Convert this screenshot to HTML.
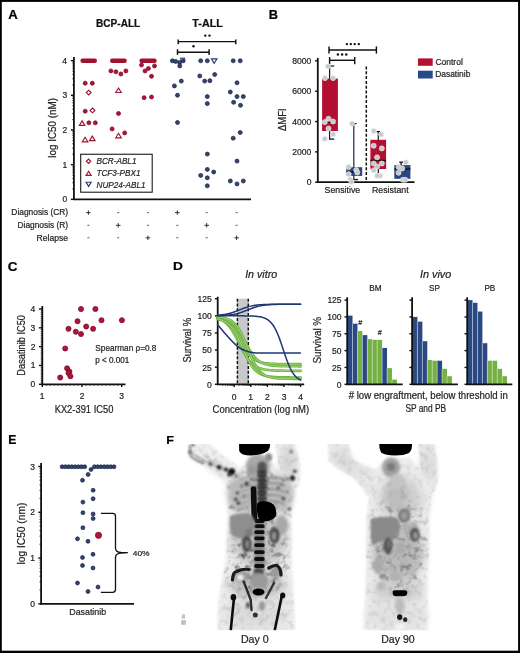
<!DOCTYPE html>
<html><head><meta charset="utf-8"><style>
html,body{margin:0;padding:0;background:#fff;}
#wrap{position:relative;width:520px;height:653px;overflow:hidden;background:#fff;}
svg{position:absolute;left:0;top:0;filter:blur(0.3px);font-family:"Liberation Sans",sans-serif;}
</style></head><body><div id="wrap">
<svg width="520" height="653" viewBox="0 0 520 653">
<text x="8.17" y="18.80" font-size="12.4" textLength="9.49" lengthAdjust="spacingAndGlyphs" font-weight="bold" font-style="normal" fill="#000" stroke="#000" stroke-width="0.22" >A</text>
<text x="268.67" y="18.70" font-size="12.0" textLength="9.23" lengthAdjust="spacingAndGlyphs" font-weight="bold" font-style="normal" fill="#000" stroke="#000" stroke-width="0.22" >B</text>
<text x="7.76" y="270.60" font-size="12.2" textLength="9.70" lengthAdjust="spacingAndGlyphs" font-weight="bold" font-style="normal" fill="#000" stroke="#000" stroke-width="0.22" >C</text>
<text x="172.91" y="270.20" font-size="11.6" textLength="9.86" lengthAdjust="spacingAndGlyphs" font-weight="bold" font-style="normal" fill="#000" stroke="#000" stroke-width="0.22" >D</text>
<text x="8.21" y="443.60" font-size="12.2" textLength="8.15" lengthAdjust="spacingAndGlyphs" font-weight="bold" font-style="normal" fill="#000" stroke="#000" stroke-width="0.22" >E</text>
<text x="166.18" y="444.20" font-size="11.8" textLength="7.67" lengthAdjust="spacingAndGlyphs" font-weight="bold" font-style="normal" fill="#000" stroke="#000" stroke-width="0.22" >F</text>
<line x1="73.90" y1="57.10" x2="73.90" y2="200.10" stroke="#111" stroke-width="1.8" />
<line x1="73.10" y1="199.30" x2="251.00" y2="199.30" stroke="#111" stroke-width="1.8" />
<line x1="70.90" y1="199.30" x2="73.90" y2="199.30" stroke="#111" stroke-width="1.4" />
<text x="62.38" y="202.32" font-size="8.5" fill="#231f20" stroke="#231f20" stroke-width="0.22">0</text>
<line x1="72.20" y1="188.86" x2="73.90" y2="188.86" stroke="#111" stroke-width="0.7" />
<line x1="72.20" y1="182.76" x2="73.90" y2="182.76" stroke="#111" stroke-width="0.7" />
<line x1="72.20" y1="178.43" x2="73.90" y2="178.43" stroke="#111" stroke-width="0.7" />
<line x1="72.20" y1="175.07" x2="73.90" y2="175.07" stroke="#111" stroke-width="0.7" />
<line x1="72.20" y1="172.32" x2="73.90" y2="172.32" stroke="#111" stroke-width="0.7" />
<line x1="72.20" y1="170.00" x2="73.90" y2="170.00" stroke="#111" stroke-width="0.7" />
<line x1="72.20" y1="167.99" x2="73.90" y2="167.99" stroke="#111" stroke-width="0.7" />
<line x1="72.20" y1="166.22" x2="73.90" y2="166.22" stroke="#111" stroke-width="0.7" />
<line x1="70.90" y1="164.63" x2="73.90" y2="164.63" stroke="#111" stroke-width="1.4" />
<text x="62.46" y="167.65" font-size="8.5" fill="#231f20" stroke="#231f20" stroke-width="0.22">1</text>
<line x1="72.20" y1="154.19" x2="73.90" y2="154.19" stroke="#111" stroke-width="0.7" />
<line x1="72.20" y1="148.09" x2="73.90" y2="148.09" stroke="#111" stroke-width="0.7" />
<line x1="72.20" y1="143.76" x2="73.90" y2="143.76" stroke="#111" stroke-width="0.7" />
<line x1="72.20" y1="140.40" x2="73.90" y2="140.40" stroke="#111" stroke-width="0.7" />
<line x1="72.20" y1="137.65" x2="73.90" y2="137.65" stroke="#111" stroke-width="0.7" />
<line x1="72.20" y1="135.33" x2="73.90" y2="135.33" stroke="#111" stroke-width="0.7" />
<line x1="72.20" y1="133.32" x2="73.90" y2="133.32" stroke="#111" stroke-width="0.7" />
<line x1="72.20" y1="131.55" x2="73.90" y2="131.55" stroke="#111" stroke-width="0.7" />
<line x1="70.90" y1="129.96" x2="73.90" y2="129.96" stroke="#111" stroke-width="1.4" />
<text x="62.51" y="132.98" font-size="8.5" fill="#231f20" stroke="#231f20" stroke-width="0.22">2</text>
<line x1="72.20" y1="119.52" x2="73.90" y2="119.52" stroke="#111" stroke-width="0.7" />
<line x1="72.20" y1="113.42" x2="73.90" y2="113.42" stroke="#111" stroke-width="0.7" />
<line x1="72.20" y1="109.09" x2="73.90" y2="109.09" stroke="#111" stroke-width="0.7" />
<line x1="72.20" y1="105.73" x2="73.90" y2="105.73" stroke="#111" stroke-width="0.7" />
<line x1="72.20" y1="102.98" x2="73.90" y2="102.98" stroke="#111" stroke-width="0.7" />
<line x1="72.20" y1="100.66" x2="73.90" y2="100.66" stroke="#111" stroke-width="0.7" />
<line x1="72.20" y1="98.65" x2="73.90" y2="98.65" stroke="#111" stroke-width="0.7" />
<line x1="72.20" y1="96.88" x2="73.90" y2="96.88" stroke="#111" stroke-width="0.7" />
<line x1="70.90" y1="95.29" x2="73.90" y2="95.29" stroke="#111" stroke-width="1.4" />
<text x="62.42" y="98.31" font-size="8.5" fill="#231f20" stroke="#231f20" stroke-width="0.22">3</text>
<line x1="72.20" y1="84.85" x2="73.90" y2="84.85" stroke="#111" stroke-width="0.7" />
<line x1="72.20" y1="78.75" x2="73.90" y2="78.75" stroke="#111" stroke-width="0.7" />
<line x1="72.20" y1="74.42" x2="73.90" y2="74.42" stroke="#111" stroke-width="0.7" />
<line x1="72.20" y1="71.06" x2="73.90" y2="71.06" stroke="#111" stroke-width="0.7" />
<line x1="72.20" y1="68.31" x2="73.90" y2="68.31" stroke="#111" stroke-width="0.7" />
<line x1="72.20" y1="65.99" x2="73.90" y2="65.99" stroke="#111" stroke-width="0.7" />
<line x1="72.20" y1="63.98" x2="73.90" y2="63.98" stroke="#111" stroke-width="0.7" />
<line x1="72.20" y1="62.21" x2="73.90" y2="62.21" stroke="#111" stroke-width="0.7" />
<line x1="70.90" y1="60.62" x2="73.90" y2="60.62" stroke="#111" stroke-width="1.4" />
<text x="62.34" y="63.64" font-size="8.5" fill="#231f20" stroke="#231f20" stroke-width="0.22">4</text>
<text transform="translate(56.32,157.64) rotate(-90)" x="0" y="0" font-size="10.2" textLength="59.56" lengthAdjust="spacingAndGlyphs" fill="#231f20" stroke="#231f20" stroke-width="0.22">log IC50 (nM)</text>
<text x="96.04" y="26.50" font-size="10" textLength="44.24" lengthAdjust="spacingAndGlyphs" font-weight="bold" font-style="normal" fill="#111" stroke="#111" stroke-width="0.22" >BCP-ALL</text>
<text x="192.39" y="26.50" font-size="10" textLength="30.46" lengthAdjust="spacingAndGlyphs" font-weight="bold" font-style="normal" fill="#111" stroke="#111" stroke-width="0.22" >T-ALL</text>
<line x1="178.20" y1="41.60" x2="235.80" y2="41.60" stroke="#111" stroke-width="1.45" />
<line x1="178.20" y1="39.40" x2="178.20" y2="44.20" stroke="#111" stroke-width="1.45" />
<line x1="235.80" y1="39.40" x2="235.80" y2="44.20" stroke="#111" stroke-width="1.45" />
<circle cx="205.30" cy="35.60" r="1.2" fill="#111" />
<circle cx="209.50" cy="35.60" r="1.2" fill="#111" />
<line x1="177.50" y1="52.20" x2="209.10" y2="52.20" stroke="#111" stroke-width="1.45" />
<line x1="177.50" y1="49.20" x2="177.50" y2="54.90" stroke="#111" stroke-width="1.45" />
<line x1="209.10" y1="49.20" x2="209.10" y2="54.90" stroke="#111" stroke-width="1.45" />
<circle cx="193.50" cy="46.20" r="1.2" fill="#111" />
<line x1="82.60" y1="60.70" x2="94.80" y2="60.70" stroke="#a1102f" stroke-width="4.4" stroke-linecap="round"/>
<circle cx="85.20" cy="83.20" r="2.00" fill="#b3123a" stroke="#7a0a26" stroke-width="0.75"/>
<circle cx="92.30" cy="83.20" r="2.00" fill="#b3123a" stroke="#7a0a26" stroke-width="0.75"/>
<circle cx="85.20" cy="111.20" r="2.00" fill="#b3123a" stroke="#7a0a26" stroke-width="0.75"/>
<circle cx="88.90" cy="122.80" r="2.00" fill="#b3123a" stroke="#7a0a26" stroke-width="0.75"/>
<circle cx="95.30" cy="122.80" r="2.00" fill="#b3123a" stroke="#7a0a26" stroke-width="0.75"/>
<path d="M88.70 90.20L91.10 92.60L88.70 95.00L86.30 92.60Z" fill="none" stroke="#a1102f" stroke-width="1.15"/>
<path d="M92.50 108.00L94.90 110.40L92.50 112.80L90.10 110.40Z" fill="none" stroke="#a1102f" stroke-width="1.15"/>
<path d="M82.10 120.90L84.85 125.40L79.35 125.40Z" fill="none" stroke="#a1102f" stroke-width="1.15" stroke-linejoin="miter"/>
<path d="M85.10 137.30L87.85 141.80L82.35 141.80Z" fill="none" stroke="#a1102f" stroke-width="1.15" stroke-linejoin="miter"/>
<path d="M92.30 136.10L95.05 140.60L89.55 140.60Z" fill="none" stroke="#a1102f" stroke-width="1.15" stroke-linejoin="miter"/>
<line x1="112.20" y1="60.70" x2="124.60" y2="60.70" stroke="#a1102f" stroke-width="4.4" stroke-linecap="round"/>
<circle cx="110.90" cy="70.90" r="2.00" fill="#b3123a" stroke="#7a0a26" stroke-width="0.75"/>
<circle cx="115.90" cy="71.80" r="2.00" fill="#b3123a" stroke="#7a0a26" stroke-width="0.75"/>
<circle cx="120.90" cy="74.00" r="2.00" fill="#b3123a" stroke="#7a0a26" stroke-width="0.75"/>
<circle cx="125.90" cy="70.90" r="2.00" fill="#b3123a" stroke="#7a0a26" stroke-width="0.75"/>
<circle cx="118.50" cy="113.50" r="2.00" fill="#b3123a" stroke="#7a0a26" stroke-width="0.75"/>
<circle cx="112.10" cy="128.90" r="2.00" fill="#b3123a" stroke="#7a0a26" stroke-width="0.75"/>
<circle cx="124.70" cy="132.90" r="2.00" fill="#b3123a" stroke="#7a0a26" stroke-width="0.75"/>
<path d="M118.50 88.00L121.25 92.50L115.75 92.50Z" fill="none" stroke="#a1102f" stroke-width="1.15" stroke-linejoin="miter"/>
<path d="M118.50 133.30L121.25 137.80L115.75 137.80Z" fill="none" stroke="#a1102f" stroke-width="1.15" stroke-linejoin="miter"/>
<line x1="141.60" y1="60.70" x2="154.50" y2="60.70" stroke="#a1102f" stroke-width="4.4" stroke-linecap="round"/>
<circle cx="141.50" cy="65.00" r="2.00" fill="#b3123a" stroke="#7a0a26" stroke-width="0.75"/>
<circle cx="154.50" cy="65.90" r="2.00" fill="#b3123a" stroke="#7a0a26" stroke-width="0.75"/>
<circle cx="148.40" cy="68.50" r="2.00" fill="#b3123a" stroke="#7a0a26" stroke-width="0.75"/>
<circle cx="145.00" cy="70.90" r="2.00" fill="#b3123a" stroke="#7a0a26" stroke-width="0.75"/>
<circle cx="151.50" cy="76.30" r="2.00" fill="#b3123a" stroke="#7a0a26" stroke-width="0.75"/>
<circle cx="144.10" cy="97.70" r="2.00" fill="#b3123a" stroke="#7a0a26" stroke-width="0.75"/>
<circle cx="151.50" cy="97.00" r="2.00" fill="#b3123a" stroke="#7a0a26" stroke-width="0.75"/>
<circle cx="172.40" cy="60.80" r="2.00" fill="#33466f" stroke="#1b2545" stroke-width="0.75"/>
<circle cx="175.60" cy="61.40" r="2.00" fill="#33466f" stroke="#1b2545" stroke-width="0.75"/>
<circle cx="183.20" cy="60.80" r="2.00" fill="#33466f" stroke="#1b2545" stroke-width="0.75"/>
<circle cx="179.60" cy="62.40" r="2.00" fill="#33466f" stroke="#1b2545" stroke-width="0.75"/>
<circle cx="179.80" cy="65.90" r="2.00" fill="#33466f" stroke="#1b2545" stroke-width="0.75"/>
<circle cx="181.30" cy="81.10" r="2.00" fill="#33466f" stroke="#1b2545" stroke-width="0.75"/>
<circle cx="174.40" cy="85.90" r="2.00" fill="#33466f" stroke="#1b2545" stroke-width="0.75"/>
<circle cx="177.50" cy="95.20" r="2.00" fill="#33466f" stroke="#1b2545" stroke-width="0.75"/>
<circle cx="177.50" cy="122.50" r="2.00" fill="#33466f" stroke="#1b2545" stroke-width="0.75"/>
<path d="M182.50 62.10L184.92 58.14L180.08 58.14Z" fill="none" stroke="#283c6c" stroke-width="1.0" stroke-linejoin="miter"/>
<circle cx="200.70" cy="60.80" r="2.00" fill="#33466f" stroke="#1b2545" stroke-width="0.75"/>
<circle cx="207.30" cy="60.80" r="2.00" fill="#33466f" stroke="#1b2545" stroke-width="0.75"/>
<circle cx="199.80" cy="75.90" r="2.00" fill="#33466f" stroke="#1b2545" stroke-width="0.75"/>
<circle cx="214.70" cy="74.50" r="2.00" fill="#33466f" stroke="#1b2545" stroke-width="0.75"/>
<circle cx="204.70" cy="81.10" r="2.00" fill="#33466f" stroke="#1b2545" stroke-width="0.75"/>
<circle cx="209.90" cy="80.70" r="2.00" fill="#33466f" stroke="#1b2545" stroke-width="0.75"/>
<circle cx="207.30" cy="96.60" r="2.00" fill="#33466f" stroke="#1b2545" stroke-width="0.75"/>
<circle cx="207.30" cy="103.60" r="2.00" fill="#33466f" stroke="#1b2545" stroke-width="0.75"/>
<circle cx="207.30" cy="154.10" r="2.00" fill="#33466f" stroke="#1b2545" stroke-width="0.75"/>
<circle cx="207.30" cy="169.40" r="2.00" fill="#33466f" stroke="#1b2545" stroke-width="0.75"/>
<circle cx="213.70" cy="172.00" r="2.00" fill="#33466f" stroke="#1b2545" stroke-width="0.75"/>
<circle cx="200.70" cy="175.40" r="2.00" fill="#33466f" stroke="#1b2545" stroke-width="0.75"/>
<circle cx="207.30" cy="177.80" r="2.00" fill="#33466f" stroke="#1b2545" stroke-width="0.75"/>
<circle cx="207.30" cy="185.80" r="2.00" fill="#33466f" stroke="#1b2545" stroke-width="0.75"/>
<path d="M214.20 63.30L216.95 58.80L211.45 58.80Z" fill="none" stroke="#283c6c" stroke-width="1.15" stroke-linejoin="miter"/>
<circle cx="233.20" cy="60.80" r="2.00" fill="#33466f" stroke="#1b2545" stroke-width="0.75"/>
<circle cx="240.20" cy="60.80" r="2.00" fill="#33466f" stroke="#1b2545" stroke-width="0.75"/>
<circle cx="237.00" cy="82.80" r="2.00" fill="#33466f" stroke="#1b2545" stroke-width="0.75"/>
<circle cx="230.30" cy="92.00" r="2.00" fill="#33466f" stroke="#1b2545" stroke-width="0.75"/>
<circle cx="237.00" cy="96.60" r="2.00" fill="#33466f" stroke="#1b2545" stroke-width="0.75"/>
<circle cx="243.30" cy="96.60" r="2.00" fill="#33466f" stroke="#1b2545" stroke-width="0.75"/>
<circle cx="233.60" cy="102.30" r="2.00" fill="#33466f" stroke="#1b2545" stroke-width="0.75"/>
<circle cx="240.50" cy="105.30" r="2.00" fill="#33466f" stroke="#1b2545" stroke-width="0.75"/>
<circle cx="240.20" cy="132.50" r="2.00" fill="#33466f" stroke="#1b2545" stroke-width="0.75"/>
<circle cx="233.20" cy="138.20" r="2.00" fill="#33466f" stroke="#1b2545" stroke-width="0.75"/>
<circle cx="237.00" cy="161.10" r="2.00" fill="#33466f" stroke="#1b2545" stroke-width="0.75"/>
<circle cx="230.30" cy="181.00" r="2.00" fill="#33466f" stroke="#1b2545" stroke-width="0.75"/>
<circle cx="237.00" cy="183.90" r="2.00" fill="#33466f" stroke="#1b2545" stroke-width="0.75"/>
<circle cx="243.30" cy="181.00" r="2.00" fill="#33466f" stroke="#1b2545" stroke-width="0.75"/>
<rect x="80.7" y="154.25" width="71.5" height="37.95" fill="none" stroke="#1a1a1a" stroke-width="1.1"/>
<path d="M88.60 159.10L90.80 161.30L88.60 163.50L86.40 161.30Z" fill="none" stroke="#a1102f" stroke-width="1.15"/>
<path d="M88.60 171.30L91.13 175.44L86.07 175.44Z" fill="none" stroke="#a1102f" stroke-width="1.15" stroke-linejoin="miter"/>
<path d="M88.60 186.40L91.13 182.26L86.07 182.26Z" fill="none" stroke="#283c6c" stroke-width="1.15" stroke-linejoin="miter"/>
<text x="96.50" y="164.20" font-size="8.5" textLength="39.95" lengthAdjust="spacingAndGlyphs" font-weight="normal" font-style="italic" fill="#231f20" stroke="#231f20" stroke-width="0.22" >BCR-ABL1</text>
<text x="96.46" y="176.20" font-size="8.5" textLength="44.03" lengthAdjust="spacingAndGlyphs" font-weight="normal" font-style="italic" fill="#231f20" stroke="#231f20" stroke-width="0.22" >TCF3-PBX1</text>
<text x="96.51" y="188.20" font-size="8.5" textLength="48.96" lengthAdjust="spacingAndGlyphs" font-weight="normal" font-style="italic" fill="#231f20" stroke="#231f20" stroke-width="0.22" >NUP24-ABL1</text>
<text x="11.33" y="215.10" font-size="8.7" textLength="56.81" lengthAdjust="spacingAndGlyphs" font-weight="normal" font-style="normal" fill="#231f20" stroke="#231f20" stroke-width="0.22" >Diagnosis (CR)</text>
<text x="17.53" y="227.90" font-size="8.7" textLength="50.59" lengthAdjust="spacingAndGlyphs" font-weight="normal" font-style="normal" fill="#231f20" stroke="#231f20" stroke-width="0.22" >Diagnosis (R)</text>
<text x="36.62" y="240.70" font-size="8.7" textLength="31.36" lengthAdjust="spacingAndGlyphs" font-weight="normal" font-style="normal" fill="#231f20" stroke="#231f20" stroke-width="0.22" >Relapse</text>
<line x1="86.10" y1="212.60" x2="90.70" y2="212.60" stroke="#333" stroke-width="1.0" />
<line x1="88.40" y1="210.40" x2="88.40" y2="214.80" stroke="#333" stroke-width="1.0" />
<line x1="117.10" y1="212.60" x2="119.30" y2="212.60" stroke="#666" stroke-width="1.0" />
<line x1="146.80" y1="212.60" x2="149.00" y2="212.60" stroke="#666" stroke-width="1.0" />
<line x1="175.00" y1="212.60" x2="179.60" y2="212.60" stroke="#333" stroke-width="1.0" />
<line x1="177.30" y1="210.40" x2="177.30" y2="214.80" stroke="#333" stroke-width="1.0" />
<line x1="205.60" y1="212.60" x2="207.80" y2="212.60" stroke="#666" stroke-width="1.0" />
<line x1="235.50" y1="212.60" x2="237.70" y2="212.60" stroke="#666" stroke-width="1.0" />
<line x1="87.30" y1="225.30" x2="89.50" y2="225.30" stroke="#666" stroke-width="1.0" />
<line x1="115.90" y1="225.30" x2="120.50" y2="225.30" stroke="#333" stroke-width="1.0" />
<line x1="118.20" y1="223.10" x2="118.20" y2="227.50" stroke="#333" stroke-width="1.0" />
<line x1="146.80" y1="225.30" x2="149.00" y2="225.30" stroke="#666" stroke-width="1.0" />
<line x1="176.20" y1="225.30" x2="178.40" y2="225.30" stroke="#666" stroke-width="1.0" />
<line x1="204.40" y1="225.30" x2="209.00" y2="225.30" stroke="#333" stroke-width="1.0" />
<line x1="206.70" y1="223.10" x2="206.70" y2="227.50" stroke="#333" stroke-width="1.0" />
<line x1="235.50" y1="225.30" x2="237.70" y2="225.30" stroke="#666" stroke-width="1.0" />
<line x1="87.30" y1="237.80" x2="89.50" y2="237.80" stroke="#666" stroke-width="1.0" />
<line x1="117.10" y1="237.80" x2="119.30" y2="237.80" stroke="#666" stroke-width="1.0" />
<line x1="145.60" y1="237.80" x2="150.20" y2="237.80" stroke="#333" stroke-width="1.0" />
<line x1="147.90" y1="235.60" x2="147.90" y2="240.00" stroke="#333" stroke-width="1.0" />
<line x1="176.20" y1="237.80" x2="178.40" y2="237.80" stroke="#666" stroke-width="1.0" />
<line x1="205.60" y1="237.80" x2="207.80" y2="237.80" stroke="#666" stroke-width="1.0" />
<line x1="234.30" y1="237.80" x2="238.90" y2="237.80" stroke="#333" stroke-width="1.0" />
<line x1="236.60" y1="235.60" x2="236.60" y2="240.00" stroke="#333" stroke-width="1.0" />
<line x1="317.80" y1="57.90" x2="317.80" y2="183.00" stroke="#111" stroke-width="1.8" />
<line x1="317.00" y1="182.20" x2="414.50" y2="182.20" stroke="#111" stroke-width="1.8" />
<line x1="315.10" y1="182.20" x2="317.80" y2="182.20" stroke="#111" stroke-width="1.4" />
<text x="306.63" y="185.25" font-size="8.6" fill="#231f20" stroke="#231f20" stroke-width="0.22">0</text>
<line x1="315.10" y1="151.87" x2="317.80" y2="151.87" stroke="#111" stroke-width="1.4" />
<text x="292.27" y="154.92" font-size="8.6" fill="#231f20" stroke="#231f20" stroke-width="0.22">2000</text>
<line x1="315.10" y1="121.54" x2="317.80" y2="121.54" stroke="#111" stroke-width="1.4" />
<text x="292.27" y="124.59" font-size="8.6" fill="#231f20" stroke="#231f20" stroke-width="0.22">4000</text>
<line x1="315.10" y1="91.21" x2="317.80" y2="91.21" stroke="#111" stroke-width="1.4" />
<text x="292.27" y="94.26" font-size="8.6" fill="#231f20" stroke="#231f20" stroke-width="0.22">6000</text>
<line x1="315.10" y1="60.88" x2="317.80" y2="60.88" stroke="#111" stroke-width="1.4" />
<text x="292.27" y="63.93" font-size="8.6" fill="#231f20" stroke="#231f20" stroke-width="0.22">8000</text>
<text transform="translate(285.52,130.98) rotate(-90)" x="0" y="0" font-size="10.2" textLength="22.68" lengthAdjust="spacingAndGlyphs" fill="#231f20" stroke="#231f20" stroke-width="0.22">ΔMFI</text>
<text x="324.61" y="193.30" font-size="8.9" textLength="35.61" lengthAdjust="spacingAndGlyphs" font-weight="normal" font-style="normal" fill="#231f20" stroke="#231f20" stroke-width="0.22" >Sensitive</text>
<text x="372.00" y="193.30" font-size="8.9" textLength="36.58" lengthAdjust="spacingAndGlyphs" font-weight="normal" font-style="normal" fill="#231f20" stroke="#231f20" stroke-width="0.22" >Resistant</text>
<line x1="329.00" y1="50.00" x2="376.40" y2="50.00" stroke="#111" stroke-width="1.45" />
<line x1="329.00" y1="46.40" x2="329.00" y2="53.60" stroke="#111" stroke-width="1.45" />
<line x1="376.40" y1="46.40" x2="376.40" y2="53.60" stroke="#111" stroke-width="1.45" />
<circle cx="346.90" cy="44.10" r="1.2" fill="#111" />
<circle cx="350.80" cy="44.10" r="1.2" fill="#111" />
<circle cx="354.70" cy="44.10" r="1.2" fill="#111" />
<circle cx="358.80" cy="44.10" r="1.2" fill="#111" />
<line x1="329.60" y1="60.30" x2="354.70" y2="60.30" stroke="#111" stroke-width="1.45" />
<line x1="329.60" y1="57.00" x2="329.60" y2="64.20" stroke="#111" stroke-width="1.45" />
<line x1="354.70" y1="57.00" x2="354.70" y2="64.20" stroke="#111" stroke-width="1.45" />
<circle cx="337.90" cy="54.50" r="1.2" fill="#111" />
<circle cx="342.10" cy="54.50" r="1.2" fill="#111" />
<circle cx="346.30" cy="54.50" r="1.2" fill="#111" />
<line x1="366.30" y1="66.50" x2="366.30" y2="182.00" stroke="#111" stroke-width="1.5" stroke-dasharray="3,1.8"/>
<line x1="329.60" y1="66.00" x2="329.60" y2="139.10" stroke="#222" stroke-width="1.3" />
<rect x="322.10" y="78.60" width="15.80" height="52.40" fill="#b30f30" />
<line x1="329.60" y1="66.00" x2="334.20" y2="66.00" stroke="#111" stroke-width="1.2" />
<line x1="329.00" y1="139.10" x2="334.20" y2="139.10" stroke="#111" stroke-width="1.3" />
<line x1="324.00" y1="122.00" x2="336.00" y2="122.00" stroke="#111" stroke-width="1.3" />
<circle cx="327.90" cy="66.20" r="2.55" fill="#c8c9ce" stroke="#ececf0" stroke-width="0.6"/>
<circle cx="325.00" cy="78.10" r="2.55" fill="#c8c9ce" stroke="#ececf0" stroke-width="0.6"/>
<circle cx="333.10" cy="78.10" r="2.55" fill="#c8c9ce" stroke="#ececf0" stroke-width="0.6"/>
<circle cx="328.50" cy="118.70" r="2.55" fill="#c8c9ce" stroke="#ececf0" stroke-width="0.6"/>
<circle cx="324.80" cy="122.10" r="2.55" fill="#c8c9ce" stroke="#ececf0" stroke-width="0.6"/>
<circle cx="333.10" cy="121.50" r="2.55" fill="#c8c9ce" stroke="#ececf0" stroke-width="0.6"/>
<circle cx="328.50" cy="128.50" r="2.55" fill="#c8c9ce" stroke="#ececf0" stroke-width="0.6"/>
<circle cx="333.10" cy="134.20" r="2.55" fill="#c8c9ce" stroke="#ececf0" stroke-width="0.6"/>
<circle cx="324.80" cy="138.80" r="2.55" fill="#c8c9ce" stroke="#ececf0" stroke-width="0.6"/>
<line x1="353.80" y1="123.60" x2="353.80" y2="179.60" stroke="#2a3550" stroke-width="1.3" />
<line x1="353.80" y1="123.60" x2="356.50" y2="123.60" stroke="#111" stroke-width="1.2" />
<rect x="346.30" y="167.20" width="15.90" height="8.70" fill="#2b4580" />
<line x1="346.30" y1="171.80" x2="355.00" y2="171.80" stroke="#0a1020" stroke-width="1.5" />
<line x1="353.00" y1="179.60" x2="358.00" y2="179.60" stroke="#111" stroke-width="1.3" />
<circle cx="352.10" cy="123.60" r="2.55" fill="#c8c9ce" stroke="#ececf0" stroke-width="0.6"/>
<circle cx="348.70" cy="166.90" r="2.55" fill="#c8c9ce" stroke="#ececf0" stroke-width="0.6"/>
<circle cx="348.70" cy="174.10" r="2.55" fill="#c8c9ce" stroke="#ececf0" stroke-width="0.6"/>
<circle cx="356.20" cy="170.10" r="2.55" fill="#c8c9ce" stroke="#ececf0" stroke-width="0.6"/>
<circle cx="357.30" cy="172.40" r="2.55" fill="#c8c9ce" stroke="#ececf0" stroke-width="0.6"/>
<circle cx="350.40" cy="179.60" r="2.55" fill="#c8c9ce" stroke="#ececf0" stroke-width="0.6"/>
<circle cx="351.50" cy="181.90" r="2.55" fill="#c8c9ce" stroke="#ececf0" stroke-width="0.6"/>
<line x1="378.30" y1="131.60" x2="378.30" y2="175.70" stroke="#222" stroke-width="1.3" />
<rect x="370.40" y="139.80" width="15.70" height="29.20" fill="#b30f30" />
<line x1="376.50" y1="131.60" x2="380.20" y2="131.60" stroke="#111" stroke-width="1.3" />
<line x1="370.40" y1="160.40" x2="386.10" y2="160.40" stroke="#2a0a10" stroke-width="1.3" />
<circle cx="373.70" cy="131.00" r="2.55" fill="#c8c9ce" stroke="#ececf0" stroke-width="0.6"/>
<circle cx="381.10" cy="134.40" r="2.55" fill="#c8c9ce" stroke="#ececf0" stroke-width="0.6"/>
<circle cx="373.70" cy="145.70" r="2.55" fill="#c8c9ce" stroke="#ececf0" stroke-width="0.6"/>
<circle cx="381.80" cy="148.40" r="2.55" fill="#c8c9ce" stroke="#ececf0" stroke-width="0.6"/>
<circle cx="377.10" cy="157.30" r="2.55" fill="#c8c9ce" stroke="#ececf0" stroke-width="0.6"/>
<circle cx="373.70" cy="163.50" r="2.55" fill="#c8c9ce" stroke="#ececf0" stroke-width="0.6"/>
<circle cx="381.80" cy="163.50" r="2.55" fill="#c8c9ce" stroke="#ececf0" stroke-width="0.6"/>
<circle cx="377.10" cy="166.50" r="2.55" fill="#c8c9ce" stroke="#ececf0" stroke-width="0.6"/>
<circle cx="373.70" cy="170.20" r="2.55" fill="#c8c9ce" stroke="#ececf0" stroke-width="0.6"/>
<circle cx="380.20" cy="175.70" r="2.55" fill="#c8c9ce" stroke="#ececf0" stroke-width="0.6"/>
<circle cx="377.10" cy="175.70" r="2.55" fill="#c8c9ce" stroke="#ececf0" stroke-width="0.6"/>
<line x1="401.10" y1="162.20" x2="401.10" y2="165.10" stroke="#111" stroke-width="1.3" />
<line x1="399.20" y1="162.20" x2="403.00" y2="162.20" stroke="#111" stroke-width="1.3" />
<rect x="394.30" y="165.10" width="16.10" height="13.70" fill="#2b4580" />
<line x1="394.30" y1="169.00" x2="410.40" y2="169.00" stroke="#0a1020" stroke-width="1.3" />
<circle cx="405.90" cy="162.20" r="2.55" fill="#c8c9ce" stroke="#ececf0" stroke-width="0.6"/>
<circle cx="398.60" cy="167.10" r="2.55" fill="#c8c9ce" stroke="#ececf0" stroke-width="0.6"/>
<circle cx="402.20" cy="168.40" r="2.55" fill="#c8c9ce" stroke="#ececf0" stroke-width="0.6"/>
<circle cx="398.60" cy="172.70" r="2.55" fill="#c8c9ce" stroke="#ececf0" stroke-width="0.6"/>
<circle cx="402.90" cy="179.80" r="2.55" fill="#c8c9ce" stroke="#ececf0" stroke-width="0.6"/>
<circle cx="405.30" cy="179.80" r="2.55" fill="#c8c9ce" stroke="#ececf0" stroke-width="0.6"/>
<rect x="418.00" y="58.40" width="14.70" height="7.40" fill="#b5102f" />
<rect x="418.00" y="70.70" width="14.70" height="7.80" fill="#2a4888" />
<text x="435.48" y="65.00" font-size="8.2" textLength="27.31" lengthAdjust="spacingAndGlyphs" font-weight="normal" font-style="normal" fill="#231f20" stroke="#231f20" stroke-width="0.22" >Control</text>
<text x="435.23" y="76.80" font-size="8.2" textLength="35.10" lengthAdjust="spacingAndGlyphs" font-weight="normal" font-style="normal" fill="#231f20" stroke="#231f20" stroke-width="0.22" >Dasatinib</text>
<line x1="42.30" y1="306.00" x2="42.30" y2="385.10" stroke="#111" stroke-width="1.8" />
<line x1="41.50" y1="384.30" x2="125.50" y2="384.30" stroke="#111" stroke-width="1.8" />
<line x1="38.90" y1="384.30" x2="42.30" y2="384.30" stroke="#111" stroke-width="1.4" />
<text x="30.58" y="387.32" font-size="8.5" fill="#231f20" stroke="#231f20" stroke-width="0.22">0</text>
<line x1="40.70" y1="382.42" x2="42.30" y2="382.42" stroke="#111" stroke-width="0.7" />
<line x1="40.70" y1="380.53" x2="42.30" y2="380.53" stroke="#111" stroke-width="0.7" />
<line x1="40.70" y1="378.65" x2="42.30" y2="378.65" stroke="#111" stroke-width="0.7" />
<line x1="40.70" y1="376.77" x2="42.30" y2="376.77" stroke="#111" stroke-width="0.7" />
<line x1="40.70" y1="374.88" x2="42.30" y2="374.88" stroke="#111" stroke-width="0.7" />
<line x1="40.70" y1="373.00" x2="42.30" y2="373.00" stroke="#111" stroke-width="0.7" />
<line x1="40.70" y1="371.12" x2="42.30" y2="371.12" stroke="#111" stroke-width="0.7" />
<line x1="40.70" y1="369.24" x2="42.30" y2="369.24" stroke="#111" stroke-width="0.7" />
<line x1="40.70" y1="367.35" x2="42.30" y2="367.35" stroke="#111" stroke-width="0.7" />
<line x1="38.90" y1="365.47" x2="42.30" y2="365.47" stroke="#111" stroke-width="1.4" />
<text x="30.66" y="368.49" font-size="8.5" fill="#231f20" stroke="#231f20" stroke-width="0.22">1</text>
<line x1="40.70" y1="363.59" x2="42.30" y2="363.59" stroke="#111" stroke-width="0.7" />
<line x1="40.70" y1="361.70" x2="42.30" y2="361.70" stroke="#111" stroke-width="0.7" />
<line x1="40.70" y1="359.82" x2="42.30" y2="359.82" stroke="#111" stroke-width="0.7" />
<line x1="40.70" y1="357.94" x2="42.30" y2="357.94" stroke="#111" stroke-width="0.7" />
<line x1="40.70" y1="356.06" x2="42.30" y2="356.06" stroke="#111" stroke-width="0.7" />
<line x1="40.70" y1="354.17" x2="42.30" y2="354.17" stroke="#111" stroke-width="0.7" />
<line x1="40.70" y1="352.29" x2="42.30" y2="352.29" stroke="#111" stroke-width="0.7" />
<line x1="40.70" y1="350.41" x2="42.30" y2="350.41" stroke="#111" stroke-width="0.7" />
<line x1="40.70" y1="348.52" x2="42.30" y2="348.52" stroke="#111" stroke-width="0.7" />
<line x1="38.90" y1="346.64" x2="42.30" y2="346.64" stroke="#111" stroke-width="1.4" />
<text x="30.71" y="349.66" font-size="8.5" fill="#231f20" stroke="#231f20" stroke-width="0.22">2</text>
<line x1="40.70" y1="344.76" x2="42.30" y2="344.76" stroke="#111" stroke-width="0.7" />
<line x1="40.70" y1="342.87" x2="42.30" y2="342.87" stroke="#111" stroke-width="0.7" />
<line x1="40.70" y1="340.99" x2="42.30" y2="340.99" stroke="#111" stroke-width="0.7" />
<line x1="40.70" y1="339.11" x2="42.30" y2="339.11" stroke="#111" stroke-width="0.7" />
<line x1="40.70" y1="337.23" x2="42.30" y2="337.23" stroke="#111" stroke-width="0.7" />
<line x1="40.70" y1="335.34" x2="42.30" y2="335.34" stroke="#111" stroke-width="0.7" />
<line x1="40.70" y1="333.46" x2="42.30" y2="333.46" stroke="#111" stroke-width="0.7" />
<line x1="40.70" y1="331.58" x2="42.30" y2="331.58" stroke="#111" stroke-width="0.7" />
<line x1="40.70" y1="329.69" x2="42.30" y2="329.69" stroke="#111" stroke-width="0.7" />
<line x1="38.90" y1="327.81" x2="42.30" y2="327.81" stroke="#111" stroke-width="1.4" />
<text x="30.62" y="330.83" font-size="8.5" fill="#231f20" stroke="#231f20" stroke-width="0.22">3</text>
<line x1="40.70" y1="325.93" x2="42.30" y2="325.93" stroke="#111" stroke-width="0.7" />
<line x1="40.70" y1="324.04" x2="42.30" y2="324.04" stroke="#111" stroke-width="0.7" />
<line x1="40.70" y1="322.16" x2="42.30" y2="322.16" stroke="#111" stroke-width="0.7" />
<line x1="40.70" y1="320.28" x2="42.30" y2="320.28" stroke="#111" stroke-width="0.7" />
<line x1="40.70" y1="318.39" x2="42.30" y2="318.39" stroke="#111" stroke-width="0.7" />
<line x1="40.70" y1="316.51" x2="42.30" y2="316.51" stroke="#111" stroke-width="0.7" />
<line x1="40.70" y1="314.63" x2="42.30" y2="314.63" stroke="#111" stroke-width="0.7" />
<line x1="40.70" y1="312.75" x2="42.30" y2="312.75" stroke="#111" stroke-width="0.7" />
<line x1="40.70" y1="310.86" x2="42.30" y2="310.86" stroke="#111" stroke-width="0.7" />
<line x1="38.90" y1="308.98" x2="42.30" y2="308.98" stroke="#111" stroke-width="1.4" />
<text x="30.54" y="312.00" font-size="8.5" fill="#231f20" stroke="#231f20" stroke-width="0.22">4</text>
<line x1="42.30" y1="384.30" x2="42.30" y2="387.10" stroke="#111" stroke-width="1.4" />
<text x="39.81" y="399.12" font-size="8.5" fill="#231f20" stroke="#231f20" stroke-width="0.22">1</text>
<line x1="46.27" y1="384.30" x2="46.27" y2="385.90" stroke="#111" stroke-width="0.7" />
<line x1="50.24" y1="384.30" x2="50.24" y2="385.90" stroke="#111" stroke-width="0.7" />
<line x1="54.21" y1="384.30" x2="54.21" y2="385.90" stroke="#111" stroke-width="0.7" />
<line x1="58.18" y1="384.30" x2="58.18" y2="385.90" stroke="#111" stroke-width="0.7" />
<line x1="62.15" y1="384.30" x2="62.15" y2="385.90" stroke="#111" stroke-width="0.7" />
<line x1="66.12" y1="384.30" x2="66.12" y2="385.90" stroke="#111" stroke-width="0.7" />
<line x1="70.09" y1="384.30" x2="70.09" y2="385.90" stroke="#111" stroke-width="0.7" />
<line x1="74.06" y1="384.30" x2="74.06" y2="385.90" stroke="#111" stroke-width="0.7" />
<line x1="78.03" y1="384.30" x2="78.03" y2="385.90" stroke="#111" stroke-width="0.7" />
<line x1="82.00" y1="384.30" x2="82.00" y2="387.10" stroke="#111" stroke-width="1.4" />
<text x="79.64" y="399.12" font-size="8.5" fill="#231f20" stroke="#231f20" stroke-width="0.22">2</text>
<line x1="85.97" y1="384.30" x2="85.97" y2="385.90" stroke="#111" stroke-width="0.7" />
<line x1="89.94" y1="384.30" x2="89.94" y2="385.90" stroke="#111" stroke-width="0.7" />
<line x1="93.91" y1="384.30" x2="93.91" y2="385.90" stroke="#111" stroke-width="0.7" />
<line x1="97.88" y1="384.30" x2="97.88" y2="385.90" stroke="#111" stroke-width="0.7" />
<line x1="101.85" y1="384.30" x2="101.85" y2="385.90" stroke="#111" stroke-width="0.7" />
<line x1="105.82" y1="384.30" x2="105.82" y2="385.90" stroke="#111" stroke-width="0.7" />
<line x1="109.79" y1="384.30" x2="109.79" y2="385.90" stroke="#111" stroke-width="0.7" />
<line x1="113.76" y1="384.30" x2="113.76" y2="385.90" stroke="#111" stroke-width="0.7" />
<line x1="117.73" y1="384.30" x2="117.73" y2="385.90" stroke="#111" stroke-width="0.7" />
<line x1="121.70" y1="384.30" x2="121.70" y2="387.10" stroke="#111" stroke-width="1.4" />
<text x="119.34" y="399.12" font-size="8.5" fill="#231f20" stroke="#231f20" stroke-width="0.22">3</text>
<text transform="translate(24.96,375.64) rotate(-90)" x="0" y="0" font-size="10.3" textLength="60.55" lengthAdjust="spacingAndGlyphs" fill="#231f20" stroke="#231f20" stroke-width="0.22">Dasatinib IC50</text>
<text x="54.65" y="413.40" font-size="10.1" textLength="58.79" lengthAdjust="spacingAndGlyphs" font-weight="normal" font-style="normal" fill="#231f20" stroke="#231f20" stroke-width="0.22" >KX2-391 IC50</text>
<circle cx="81.00" cy="309.00" r="2.55" fill="#b3123a" stroke="#7a0a26" stroke-width="0.75"/>
<circle cx="95.40" cy="309.00" r="2.55" fill="#b3123a" stroke="#7a0a26" stroke-width="0.75"/>
<circle cx="77.50" cy="321.20" r="2.55" fill="#b3123a" stroke="#7a0a26" stroke-width="0.75"/>
<circle cx="101.50" cy="320.20" r="2.55" fill="#b3123a" stroke="#7a0a26" stroke-width="0.75"/>
<circle cx="121.90" cy="320.20" r="2.55" fill="#b3123a" stroke="#7a0a26" stroke-width="0.75"/>
<circle cx="68.50" cy="328.80" r="2.55" fill="#b3123a" stroke="#7a0a26" stroke-width="0.75"/>
<circle cx="86.20" cy="326.50" r="2.55" fill="#b3123a" stroke="#7a0a26" stroke-width="0.75"/>
<circle cx="93.10" cy="328.80" r="2.55" fill="#b3123a" stroke="#7a0a26" stroke-width="0.75"/>
<circle cx="75.80" cy="331.70" r="2.55" fill="#b3123a" stroke="#7a0a26" stroke-width="0.75"/>
<circle cx="81.00" cy="334.00" r="2.55" fill="#b3123a" stroke="#7a0a26" stroke-width="0.75"/>
<circle cx="65.20" cy="348.50" r="2.55" fill="#b3123a" stroke="#7a0a26" stroke-width="0.75"/>
<circle cx="67.10" cy="368.30" r="2.55" fill="#b3123a" stroke="#7a0a26" stroke-width="0.75"/>
<circle cx="69.40" cy="371.50" r="2.55" fill="#b3123a" stroke="#7a0a26" stroke-width="0.75"/>
<circle cx="68.50" cy="373.10" r="2.55" fill="#b3123a" stroke="#7a0a26" stroke-width="0.75"/>
<circle cx="70.40" cy="376.30" r="2.55" fill="#b3123a" stroke="#7a0a26" stroke-width="0.75"/>
<circle cx="60.20" cy="377.50" r="2.55" fill="#b3123a" stroke="#7a0a26" stroke-width="0.75"/>
<text x="95.33" y="350.70" font-size="8.2" textLength="61.10" lengthAdjust="spacingAndGlyphs" font-weight="normal" font-style="normal" fill="#231f20" stroke="#231f20" stroke-width="0.22" >Spearman ρ=0.8</text>
<text x="95.17" y="363.10" font-size="8.2" textLength="34.12" lengthAdjust="spacingAndGlyphs" font-weight="normal" font-style="normal" fill="#231f20" stroke="#231f20" stroke-width="0.22" >p &lt; 0.001</text>
<text x="245.17" y="277.50" font-size="10.1" textLength="31.96" lengthAdjust="spacingAndGlyphs" font-weight="normal" font-style="italic" fill="#231f20" stroke="#231f20" stroke-width="0.22" >In vitro</text>
<rect x="237.00" y="298.70" width="11.50" height="85.60" fill="#c9c9cb" />
<line x1="237.40" y1="298.70" x2="237.40" y2="384.30" stroke="#111" stroke-width="1.5" stroke-dasharray="3,1.8"/>
<line x1="248.30" y1="298.70" x2="248.30" y2="384.30" stroke="#111" stroke-width="1.5" stroke-dasharray="3,1.8"/>
<line x1="217.70" y1="296.70" x2="217.70" y2="385.10" stroke="#111" stroke-width="1.8" />
<line x1="216.90" y1="384.30" x2="304.20" y2="384.30" stroke="#111" stroke-width="1.8" />
<line x1="214.90" y1="384.30" x2="217.70" y2="384.30" stroke="#111" stroke-width="1.4" />
<text x="206.98" y="387.72" font-size="8.5" fill="#231f20" stroke="#231f20" stroke-width="0.22">0</text>
<line x1="214.90" y1="367.18" x2="217.70" y2="367.18" stroke="#111" stroke-width="1.4" />
<text x="202.31" y="370.60" font-size="8.5" fill="#231f20" stroke="#231f20" stroke-width="0.22">25</text>
<line x1="214.90" y1="350.06" x2="217.70" y2="350.06" stroke="#111" stroke-width="1.4" />
<text x="202.26" y="353.48" font-size="8.5" fill="#231f20" stroke="#231f20" stroke-width="0.22">50</text>
<line x1="214.90" y1="332.94" x2="217.70" y2="332.94" stroke="#111" stroke-width="1.4" />
<text x="202.31" y="336.36" font-size="8.5" fill="#231f20" stroke="#231f20" stroke-width="0.22">75</text>
<line x1="214.90" y1="315.82" x2="217.70" y2="315.82" stroke="#111" stroke-width="1.4" />
<text x="197.55" y="319.24" font-size="8.5" fill="#231f20" stroke="#231f20" stroke-width="0.22">100</text>
<line x1="214.90" y1="298.70" x2="217.70" y2="298.70" stroke="#111" stroke-width="1.4" />
<text x="197.59" y="302.12" font-size="8.5" fill="#231f20" stroke="#231f20" stroke-width="0.22">125</text>
<line x1="234.20" y1="384.30" x2="234.20" y2="386.90" stroke="#111" stroke-width="1.4" />
<text x="231.82" y="399.52" font-size="8.5" fill="#231f20" stroke="#231f20" stroke-width="0.22">0</text>
<line x1="250.80" y1="384.30" x2="250.80" y2="386.90" stroke="#111" stroke-width="1.4" />
<text x="248.31" y="399.52" font-size="8.5" fill="#231f20" stroke="#231f20" stroke-width="0.22">1</text>
<line x1="267.40" y1="384.30" x2="267.40" y2="386.90" stroke="#111" stroke-width="1.4" />
<text x="265.04" y="399.52" font-size="8.5" fill="#231f20" stroke="#231f20" stroke-width="0.22">2</text>
<line x1="284.00" y1="384.30" x2="284.00" y2="386.90" stroke="#111" stroke-width="1.4" />
<text x="281.64" y="399.52" font-size="8.5" fill="#231f20" stroke="#231f20" stroke-width="0.22">3</text>
<line x1="300.60" y1="384.30" x2="300.60" y2="386.90" stroke="#111" stroke-width="1.4" />
<text x="298.28" y="399.52" font-size="8.5" fill="#231f20" stroke="#231f20" stroke-width="0.22">4</text>
<line x1="222.60" y1="384.30" x2="222.60" y2="385.90" stroke="#111" stroke-width="0.7" />
<line x1="225.52" y1="384.30" x2="225.52" y2="385.90" stroke="#111" stroke-width="0.7" />
<line x1="227.59" y1="384.30" x2="227.59" y2="385.90" stroke="#111" stroke-width="0.7" />
<line x1="229.20" y1="384.30" x2="229.20" y2="385.90" stroke="#111" stroke-width="0.7" />
<line x1="230.52" y1="384.30" x2="230.52" y2="385.90" stroke="#111" stroke-width="0.7" />
<line x1="231.63" y1="384.30" x2="231.63" y2="385.90" stroke="#111" stroke-width="0.7" />
<line x1="232.59" y1="384.30" x2="232.59" y2="385.90" stroke="#111" stroke-width="0.7" />
<line x1="233.44" y1="384.30" x2="233.44" y2="385.90" stroke="#111" stroke-width="0.7" />
<line x1="239.20" y1="384.30" x2="239.20" y2="385.90" stroke="#111" stroke-width="0.7" />
<line x1="242.12" y1="384.30" x2="242.12" y2="385.90" stroke="#111" stroke-width="0.7" />
<line x1="244.19" y1="384.30" x2="244.19" y2="385.90" stroke="#111" stroke-width="0.7" />
<line x1="245.80" y1="384.30" x2="245.80" y2="385.90" stroke="#111" stroke-width="0.7" />
<line x1="247.12" y1="384.30" x2="247.12" y2="385.90" stroke="#111" stroke-width="0.7" />
<line x1="248.23" y1="384.30" x2="248.23" y2="385.90" stroke="#111" stroke-width="0.7" />
<line x1="249.19" y1="384.30" x2="249.19" y2="385.90" stroke="#111" stroke-width="0.7" />
<line x1="250.04" y1="384.30" x2="250.04" y2="385.90" stroke="#111" stroke-width="0.7" />
<line x1="255.80" y1="384.30" x2="255.80" y2="385.90" stroke="#111" stroke-width="0.7" />
<line x1="258.72" y1="384.30" x2="258.72" y2="385.90" stroke="#111" stroke-width="0.7" />
<line x1="260.79" y1="384.30" x2="260.79" y2="385.90" stroke="#111" stroke-width="0.7" />
<line x1="262.40" y1="384.30" x2="262.40" y2="385.90" stroke="#111" stroke-width="0.7" />
<line x1="263.72" y1="384.30" x2="263.72" y2="385.90" stroke="#111" stroke-width="0.7" />
<line x1="264.83" y1="384.30" x2="264.83" y2="385.90" stroke="#111" stroke-width="0.7" />
<line x1="265.79" y1="384.30" x2="265.79" y2="385.90" stroke="#111" stroke-width="0.7" />
<line x1="266.64" y1="384.30" x2="266.64" y2="385.90" stroke="#111" stroke-width="0.7" />
<line x1="272.40" y1="384.30" x2="272.40" y2="385.90" stroke="#111" stroke-width="0.7" />
<line x1="275.32" y1="384.30" x2="275.32" y2="385.90" stroke="#111" stroke-width="0.7" />
<line x1="277.39" y1="384.30" x2="277.39" y2="385.90" stroke="#111" stroke-width="0.7" />
<line x1="279.00" y1="384.30" x2="279.00" y2="385.90" stroke="#111" stroke-width="0.7" />
<line x1="280.32" y1="384.30" x2="280.32" y2="385.90" stroke="#111" stroke-width="0.7" />
<line x1="281.43" y1="384.30" x2="281.43" y2="385.90" stroke="#111" stroke-width="0.7" />
<line x1="282.39" y1="384.30" x2="282.39" y2="385.90" stroke="#111" stroke-width="0.7" />
<line x1="283.24" y1="384.30" x2="283.24" y2="385.90" stroke="#111" stroke-width="0.7" />
<line x1="289.00" y1="384.30" x2="289.00" y2="385.90" stroke="#111" stroke-width="0.7" />
<line x1="291.92" y1="384.30" x2="291.92" y2="385.90" stroke="#111" stroke-width="0.7" />
<line x1="293.99" y1="384.30" x2="293.99" y2="385.90" stroke="#111" stroke-width="0.7" />
<line x1="295.60" y1="384.30" x2="295.60" y2="385.90" stroke="#111" stroke-width="0.7" />
<line x1="296.92" y1="384.30" x2="296.92" y2="385.90" stroke="#111" stroke-width="0.7" />
<line x1="298.03" y1="384.30" x2="298.03" y2="385.90" stroke="#111" stroke-width="0.7" />
<line x1="298.99" y1="384.30" x2="298.99" y2="385.90" stroke="#111" stroke-width="0.7" />
<line x1="299.84" y1="384.30" x2="299.84" y2="385.90" stroke="#111" stroke-width="0.7" />
<text transform="translate(190.69,362.42) rotate(-90)" x="0" y="0" font-size="10.4" textLength="44.44" lengthAdjust="spacingAndGlyphs" fill="#231f20" stroke="#231f20" stroke-width="0.22">Survival %</text>
<text x="212.52" y="413.00" font-size="10.3" textLength="96.66" lengthAdjust="spacingAndGlyphs" font-weight="normal" font-style="normal" fill="#231f20" stroke="#231f20" stroke-width="0.22" >Concentration (log nM)</text>
<path d="M217.60,317.65 L218.64,317.85 L219.67,318.08 L220.71,318.35 L221.75,318.67 L222.79,319.04 L223.82,319.47 L224.86,319.96 L225.90,320.53 L226.94,321.18 L227.97,321.93 L229.01,322.78 L230.05,323.74 L231.09,324.81 L232.12,326.01 L233.16,327.33 L234.20,328.78 L235.24,330.34 L236.27,332.02 L237.31,333.80 L238.35,335.66 L239.39,337.59 L240.42,339.55 L241.46,341.52 L242.50,343.47 L243.54,345.39 L244.57,347.23 L245.61,348.99 L246.65,350.65 L247.69,352.19 L248.72,353.62 L249.76,354.91 L250.80,356.09 L251.84,357.14 L252.88,358.07 L253.91,358.90 L254.95,359.63 L255.99,360.26 L257.02,360.82 L258.06,361.30 L259.10,361.71 L260.14,362.07 L261.18,362.38 L262.21,362.64 L263.25,362.87 L264.29,363.06 L265.32,363.23 L266.36,363.37 L267.40,363.49 L268.44,363.59 L269.48,363.68 L270.51,363.75 L271.55,363.81 L272.59,363.87 L273.62,363.91 L274.66,363.95 L275.70,363.98 L276.74,364.01 L277.77,364.04 L278.81,364.06 L279.85,364.07 L280.89,364.09 L281.93,364.10 L282.96,364.11 L284.00,364.12 L285.04,364.13 L286.07,364.13 L287.11,364.14 L288.15,364.14 L289.19,364.15 L290.23,364.15 L291.26,364.15 L292.30,364.15 L293.34,364.16 L294.38,364.16 L295.41,364.16 L296.45,364.16 L297.49,364.16 L298.52,364.16 L299.56,364.16 L300.60,364.16" fill="none" stroke="#6cb23f" stroke-width="2.7" stroke-linejoin="round" stroke-linecap="round"/>
<path d="M217.60,317.65 L218.64,317.85 L219.67,318.08 L220.71,318.35 L221.75,318.67 L222.79,319.04 L223.82,319.47 L224.86,319.96 L225.90,320.53 L226.94,321.18 L227.97,321.93 L229.01,322.78 L230.05,323.74 L231.09,324.81 L232.12,326.01 L233.16,327.33 L234.20,328.78 L235.24,330.34 L236.27,332.02 L237.31,333.80 L238.35,335.66 L239.39,337.59 L240.42,339.55 L241.46,341.52 L242.50,343.47 L243.54,345.39 L244.57,347.23 L245.61,348.99 L246.65,350.65 L247.69,352.19 L248.72,353.62 L249.76,354.91 L250.80,356.09 L251.84,357.14 L252.88,358.07 L253.91,358.90 L254.95,359.63 L255.99,360.26 L257.02,360.82 L258.06,361.30 L259.10,361.71 L260.14,362.07 L261.18,362.38 L262.21,362.64 L263.25,362.87 L264.29,363.06 L265.32,363.23 L266.36,363.37 L267.40,363.49 L268.44,363.59 L269.48,363.68 L270.51,363.75 L271.55,363.81 L272.59,363.87 L273.62,363.91 L274.66,363.95 L275.70,363.98 L276.74,364.01 L277.77,364.04 L278.81,364.06 L279.85,364.07 L280.89,364.09 L281.93,364.10 L282.96,364.11 L284.00,364.12 L285.04,364.13 L286.07,364.13 L287.11,364.14 L288.15,364.14 L289.19,364.15 L290.23,364.15 L291.26,364.15 L292.30,364.15 L293.34,364.16 L294.38,364.16 L295.41,364.16 L296.45,364.16 L297.49,364.16 L298.52,364.16 L299.56,364.16 L300.60,364.16" fill="none" stroke="#b3da8a" stroke-width="0.9" stroke-linejoin="round" stroke-linecap="round"/>
<path d="M217.60,317.93 L218.64,318.05 L219.67,318.20 L220.71,318.37 L221.75,318.57 L222.79,318.79 L223.82,319.06 L224.86,319.37 L225.90,319.72 L226.94,320.13 L227.97,320.60 L229.01,321.13 L230.05,321.75 L231.09,322.45 L232.12,323.24 L233.16,324.13 L234.20,325.12 L235.24,326.23 L236.27,327.46 L237.31,328.81 L238.35,330.27 L239.39,331.84 L240.42,333.52 L241.46,335.29 L242.50,337.13 L243.54,339.03 L244.57,340.96 L245.61,342.90 L246.65,344.83 L247.69,346.72 L248.72,348.55 L249.76,350.30 L250.80,351.96 L251.84,353.51 L252.88,354.95 L253.91,356.27 L254.95,357.48 L255.99,358.56 L257.02,359.54 L258.06,360.41 L259.10,361.18 L260.14,361.86 L261.18,362.46 L262.21,362.98 L263.25,363.44 L264.29,363.83 L265.32,364.18 L266.36,364.48 L267.40,364.73 L268.44,364.96 L269.48,365.15 L270.51,365.31 L271.55,365.45 L272.59,365.57 L273.62,365.68 L274.66,365.76 L275.70,365.84 L276.74,365.91 L277.77,365.96 L278.81,366.01 L279.85,366.05 L280.89,366.09 L281.93,366.12 L282.96,366.14 L284.00,366.16 L285.04,366.18 L286.07,366.20 L287.11,366.21 L288.15,366.22 L289.19,366.23 L290.23,366.24 L291.26,366.25 L292.30,366.25 L293.34,366.26 L294.38,366.26 L295.41,366.27 L296.45,366.27 L297.49,366.27 L298.52,366.28 L299.56,366.28 L300.60,366.28" fill="none" stroke="#6cb23f" stroke-width="2.7" stroke-linejoin="round" stroke-linecap="round"/>
<path d="M217.60,317.93 L218.64,318.05 L219.67,318.20 L220.71,318.37 L221.75,318.57 L222.79,318.79 L223.82,319.06 L224.86,319.37 L225.90,319.72 L226.94,320.13 L227.97,320.60 L229.01,321.13 L230.05,321.75 L231.09,322.45 L232.12,323.24 L233.16,324.13 L234.20,325.12 L235.24,326.23 L236.27,327.46 L237.31,328.81 L238.35,330.27 L239.39,331.84 L240.42,333.52 L241.46,335.29 L242.50,337.13 L243.54,339.03 L244.57,340.96 L245.61,342.90 L246.65,344.83 L247.69,346.72 L248.72,348.55 L249.76,350.30 L250.80,351.96 L251.84,353.51 L252.88,354.95 L253.91,356.27 L254.95,357.48 L255.99,358.56 L257.02,359.54 L258.06,360.41 L259.10,361.18 L260.14,361.86 L261.18,362.46 L262.21,362.98 L263.25,363.44 L264.29,363.83 L265.32,364.18 L266.36,364.48 L267.40,364.73 L268.44,364.96 L269.48,365.15 L270.51,365.31 L271.55,365.45 L272.59,365.57 L273.62,365.68 L274.66,365.76 L275.70,365.84 L276.74,365.91 L277.77,365.96 L278.81,366.01 L279.85,366.05 L280.89,366.09 L281.93,366.12 L282.96,366.14 L284.00,366.16 L285.04,366.18 L286.07,366.20 L287.11,366.21 L288.15,366.22 L289.19,366.23 L290.23,366.24 L291.26,366.25 L292.30,366.25 L293.34,366.26 L294.38,366.26 L295.41,366.27 L296.45,366.27 L297.49,366.27 L298.52,366.28 L299.56,366.28 L300.60,366.28" fill="none" stroke="#b3da8a" stroke-width="0.9" stroke-linejoin="round" stroke-linecap="round"/>
<path d="M217.60,318.09 L218.64,318.45 L219.67,318.85 L220.71,319.32 L221.75,319.85 L222.79,320.45 L223.82,321.13 L224.86,321.90 L225.90,322.76 L226.94,323.73 L227.97,324.81 L229.01,326.01 L230.05,327.32 L231.09,328.76 L232.12,330.31 L233.16,331.98 L234.20,333.76 L235.24,335.63 L236.27,337.58 L237.31,339.60 L238.35,341.65 L239.39,343.73 L240.42,345.80 L241.46,347.84 L242.50,349.84 L243.54,351.76 L244.57,353.59 L245.61,355.33 L246.65,356.95 L247.69,358.46 L248.72,359.85 L249.76,361.11 L250.80,362.26 L251.84,363.30 L252.88,364.22 L253.91,365.05 L254.95,365.78 L255.99,366.43 L257.02,367.00 L258.06,367.51 L259.10,367.94 L260.14,368.33 L261.18,368.66 L262.21,368.95 L263.25,369.21 L264.29,369.43 L265.32,369.62 L266.36,369.78 L267.40,369.92 L268.44,370.04 L269.48,370.15 L270.51,370.24 L271.55,370.32 L272.59,370.39 L273.62,370.45 L274.66,370.50 L275.70,370.54 L276.74,370.58 L277.77,370.61 L278.81,370.64 L279.85,370.66 L280.89,370.68 L281.93,370.70 L282.96,370.72 L284.00,370.73 L285.04,370.74 L286.07,370.75 L287.11,370.76 L288.15,370.77 L289.19,370.77 L290.23,370.78 L291.26,370.78 L292.30,370.79 L293.34,370.79 L294.38,370.79 L295.41,370.79 L296.45,370.80 L297.49,370.80 L298.52,370.80 L299.56,370.80 L300.60,370.80" fill="none" stroke="#6cb23f" stroke-width="2.7" stroke-linejoin="round" stroke-linecap="round"/>
<path d="M217.60,318.09 L218.64,318.45 L219.67,318.85 L220.71,319.32 L221.75,319.85 L222.79,320.45 L223.82,321.13 L224.86,321.90 L225.90,322.76 L226.94,323.73 L227.97,324.81 L229.01,326.01 L230.05,327.32 L231.09,328.76 L232.12,330.31 L233.16,331.98 L234.20,333.76 L235.24,335.63 L236.27,337.58 L237.31,339.60 L238.35,341.65 L239.39,343.73 L240.42,345.80 L241.46,347.84 L242.50,349.84 L243.54,351.76 L244.57,353.59 L245.61,355.33 L246.65,356.95 L247.69,358.46 L248.72,359.85 L249.76,361.11 L250.80,362.26 L251.84,363.30 L252.88,364.22 L253.91,365.05 L254.95,365.78 L255.99,366.43 L257.02,367.00 L258.06,367.51 L259.10,367.94 L260.14,368.33 L261.18,368.66 L262.21,368.95 L263.25,369.21 L264.29,369.43 L265.32,369.62 L266.36,369.78 L267.40,369.92 L268.44,370.04 L269.48,370.15 L270.51,370.24 L271.55,370.32 L272.59,370.39 L273.62,370.45 L274.66,370.50 L275.70,370.54 L276.74,370.58 L277.77,370.61 L278.81,370.64 L279.85,370.66 L280.89,370.68 L281.93,370.70 L282.96,370.72 L284.00,370.73 L285.04,370.74 L286.07,370.75 L287.11,370.76 L288.15,370.77 L289.19,370.77 L290.23,370.78 L291.26,370.78 L292.30,370.79 L293.34,370.79 L294.38,370.79 L295.41,370.79 L296.45,370.80 L297.49,370.80 L298.52,370.80 L299.56,370.80 L300.60,370.80" fill="none" stroke="#b3da8a" stroke-width="0.9" stroke-linejoin="round" stroke-linecap="round"/>
<path d="M217.60,319.18 L218.64,319.40 L219.67,319.65 L220.71,319.95 L221.75,320.29 L222.79,320.68 L223.82,321.14 L224.86,321.66 L225.90,322.26 L226.94,322.95 L227.97,323.74 L229.01,324.63 L230.05,325.64 L231.09,326.77 L232.12,328.04 L233.16,329.44 L234.20,330.99 L235.24,332.68 L236.27,334.51 L237.31,336.47 L238.35,338.56 L239.39,340.75 L240.42,343.02 L241.46,345.34 L242.50,347.70 L243.54,350.05 L244.57,352.38 L245.61,354.65 L246.65,356.84 L247.69,358.92 L248.72,360.88 L249.76,362.72 L250.80,364.41 L251.84,365.95 L252.88,367.36 L253.91,368.62 L254.95,369.76 L255.99,370.77 L257.02,371.66 L258.06,372.44 L259.10,373.13 L260.14,373.73 L261.18,374.26 L262.21,374.71 L263.25,375.11 L264.29,375.45 L265.32,375.74 L266.36,376.00 L267.40,376.21 L268.44,376.40 L269.48,376.56 L270.51,376.70 L271.55,376.82 L272.59,376.92 L273.62,377.01 L274.66,377.08 L275.70,377.15 L276.74,377.20 L277.77,377.25 L278.81,377.29 L279.85,377.32 L280.89,377.35 L281.93,377.38 L282.96,377.40 L284.00,377.41 L285.04,377.43 L286.07,377.44 L287.11,377.45 L288.15,377.46 L289.19,377.47 L290.23,377.48 L291.26,377.49 L292.30,377.49 L293.34,377.49 L294.38,377.50 L295.41,377.50 L296.45,377.50 L297.49,377.51 L298.52,377.51 L299.56,377.51 L300.60,377.51" fill="none" stroke="#6cb23f" stroke-width="2.7" stroke-linejoin="round" stroke-linecap="round"/>
<path d="M217.60,319.18 L218.64,319.40 L219.67,319.65 L220.71,319.95 L221.75,320.29 L222.79,320.68 L223.82,321.14 L224.86,321.66 L225.90,322.26 L226.94,322.95 L227.97,323.74 L229.01,324.63 L230.05,325.64 L231.09,326.77 L232.12,328.04 L233.16,329.44 L234.20,330.99 L235.24,332.68 L236.27,334.51 L237.31,336.47 L238.35,338.56 L239.39,340.75 L240.42,343.02 L241.46,345.34 L242.50,347.70 L243.54,350.05 L244.57,352.38 L245.61,354.65 L246.65,356.84 L247.69,358.92 L248.72,360.88 L249.76,362.72 L250.80,364.41 L251.84,365.95 L252.88,367.36 L253.91,368.62 L254.95,369.76 L255.99,370.77 L257.02,371.66 L258.06,372.44 L259.10,373.13 L260.14,373.73 L261.18,374.26 L262.21,374.71 L263.25,375.11 L264.29,375.45 L265.32,375.74 L266.36,376.00 L267.40,376.21 L268.44,376.40 L269.48,376.56 L270.51,376.70 L271.55,376.82 L272.59,376.92 L273.62,377.01 L274.66,377.08 L275.70,377.15 L276.74,377.20 L277.77,377.25 L278.81,377.29 L279.85,377.32 L280.89,377.35 L281.93,377.38 L282.96,377.40 L284.00,377.41 L285.04,377.43 L286.07,377.44 L287.11,377.45 L288.15,377.46 L289.19,377.47 L290.23,377.48 L291.26,377.49 L292.30,377.49 L293.34,377.49 L294.38,377.50 L295.41,377.50 L296.45,377.50 L297.49,377.51 L298.52,377.51 L299.56,377.51 L300.60,377.51" fill="none" stroke="#b3da8a" stroke-width="0.9" stroke-linejoin="round" stroke-linecap="round"/>
<path d="M217.60,317.03 L218.64,317.12 L219.67,317.23 L220.71,317.36 L221.75,317.52 L222.79,317.69 L223.82,317.90 L224.86,318.15 L225.90,318.44 L226.94,318.77 L227.97,319.16 L229.01,319.62 L230.05,320.14 L231.09,320.75 L232.12,321.46 L233.16,322.27 L234.20,323.19 L235.24,324.25 L236.27,325.44 L237.31,326.78 L238.35,328.28 L239.39,329.95 L240.42,331.77 L241.46,333.76 L242.50,335.90 L243.54,338.18 L244.57,340.57 L245.61,343.06 L246.65,345.60 L247.69,348.18 L248.72,350.75 L249.76,353.27 L250.80,355.73 L251.84,358.08 L252.88,360.30 L253.91,362.38 L254.95,364.30 L255.99,366.06 L257.02,367.66 L258.06,369.10 L259.10,370.38 L260.14,371.52 L261.18,372.52 L262.21,373.40 L263.25,374.16 L264.29,374.83 L265.32,375.40 L266.36,375.90 L267.40,376.33 L268.44,376.70 L269.48,377.01 L270.51,377.28 L271.55,377.51 L272.59,377.71 L273.62,377.87 L274.66,378.02 L275.70,378.14 L276.74,378.24 L277.77,378.33 L278.81,378.40 L279.85,378.47 L280.89,378.52 L281.93,378.57 L282.96,378.61 L284.00,378.64 L285.04,378.67 L286.07,378.69 L287.11,378.71 L288.15,378.73 L289.19,378.74 L290.23,378.75 L291.26,378.76 L292.30,378.77 L293.34,378.78 L294.38,378.79 L295.41,378.79 L296.45,378.80 L297.49,378.80 L298.52,378.80 L299.56,378.81 L300.60,378.81" fill="none" stroke="#6cb23f" stroke-width="2.7" stroke-linejoin="round" stroke-linecap="round"/>
<path d="M217.60,317.03 L218.64,317.12 L219.67,317.23 L220.71,317.36 L221.75,317.52 L222.79,317.69 L223.82,317.90 L224.86,318.15 L225.90,318.44 L226.94,318.77 L227.97,319.16 L229.01,319.62 L230.05,320.14 L231.09,320.75 L232.12,321.46 L233.16,322.27 L234.20,323.19 L235.24,324.25 L236.27,325.44 L237.31,326.78 L238.35,328.28 L239.39,329.95 L240.42,331.77 L241.46,333.76 L242.50,335.90 L243.54,338.18 L244.57,340.57 L245.61,343.06 L246.65,345.60 L247.69,348.18 L248.72,350.75 L249.76,353.27 L250.80,355.73 L251.84,358.08 L252.88,360.30 L253.91,362.38 L254.95,364.30 L255.99,366.06 L257.02,367.66 L258.06,369.10 L259.10,370.38 L260.14,371.52 L261.18,372.52 L262.21,373.40 L263.25,374.16 L264.29,374.83 L265.32,375.40 L266.36,375.90 L267.40,376.33 L268.44,376.70 L269.48,377.01 L270.51,377.28 L271.55,377.51 L272.59,377.71 L273.62,377.87 L274.66,378.02 L275.70,378.14 L276.74,378.24 L277.77,378.33 L278.81,378.40 L279.85,378.47 L280.89,378.52 L281.93,378.57 L282.96,378.61 L284.00,378.64 L285.04,378.67 L286.07,378.69 L287.11,378.71 L288.15,378.73 L289.19,378.74 L290.23,378.75 L291.26,378.76 L292.30,378.77 L293.34,378.78 L294.38,378.79 L295.41,378.79 L296.45,378.80 L297.49,378.80 L298.52,378.80 L299.56,378.81 L300.60,378.81" fill="none" stroke="#b3da8a" stroke-width="0.9" stroke-linejoin="round" stroke-linecap="round"/>
<path d="M217.60,315.26 L218.64,315.18 L219.67,315.09 L220.71,314.99 L221.75,314.87 L222.79,314.73 L223.82,314.58 L224.86,314.42 L225.90,314.23 L226.94,314.02 L227.97,313.79 L229.01,313.54 L230.05,313.26 L231.09,312.96 L232.12,312.64 L233.16,312.30 L234.20,311.93 L235.24,311.55 L236.27,311.16 L237.31,310.75 L238.35,310.33 L239.39,309.92 L240.42,309.50 L241.46,309.09 L242.50,308.68 L243.54,308.29 L244.57,307.92 L245.61,307.56 L246.65,307.23 L247.69,306.91 L248.72,306.62 L249.76,306.36 L250.80,306.11 L251.84,305.89 L252.88,305.69 L253.91,305.51 L254.95,305.35 L255.99,305.21 L257.02,305.08 L258.06,304.97 L259.10,304.87 L260.14,304.78 L261.18,304.70 L262.21,304.64 L263.25,304.58 L264.29,304.53 L265.32,304.48 L266.36,304.44 L267.40,304.41 L268.44,304.38 L269.48,304.35 L270.51,304.33 L271.55,304.31 L272.59,304.29 L273.62,304.28 L274.66,304.26 L275.70,304.25 L276.74,304.24 L277.77,304.23 L278.81,304.23 L279.85,304.22 L280.89,304.21 L281.93,304.21 L282.96,304.21 L284.00,304.20 L285.04,304.20 L286.07,304.20 L287.11,304.19 L288.15,304.19 L289.19,304.19 L290.23,304.19 L291.26,304.19 L292.30,304.19 L293.34,304.18 L294.38,304.18 L295.41,304.18 L296.45,304.18 L297.49,304.18 L298.52,304.18 L299.56,304.18 L300.60,304.18" fill="none" stroke="#1e3873" stroke-width="1.5" stroke-linejoin="round" stroke-linecap="round"/>
<path d="M217.60,315.64 L218.64,315.61 L219.67,315.58 L220.71,315.54 L221.75,315.50 L222.79,315.45 L223.82,315.40 L224.86,315.34 L225.90,315.26 L226.94,315.18 L227.97,315.09 L229.01,314.99 L230.05,314.87 L231.09,314.73 L232.12,314.58 L233.16,314.42 L234.20,314.23 L235.24,314.02 L236.27,313.79 L237.31,313.54 L238.35,313.26 L239.39,312.96 L240.42,312.64 L241.46,312.30 L242.50,311.93 L243.54,311.55 L244.57,311.16 L245.61,310.75 L246.65,310.33 L247.69,309.92 L248.72,309.50 L249.76,309.09 L250.80,308.68 L251.84,308.29 L252.88,307.92 L253.91,307.56 L254.95,307.23 L255.99,306.91 L257.02,306.62 L258.06,306.36 L259.10,306.11 L260.14,305.89 L261.18,305.69 L262.21,305.51 L263.25,305.35 L264.29,305.21 L265.32,305.08 L266.36,304.97 L267.40,304.87 L268.44,304.78 L269.48,304.70 L270.51,304.64 L271.55,304.58 L272.59,304.53 L273.62,304.48 L274.66,304.44 L275.70,304.41 L276.74,304.38 L277.77,304.35 L278.81,304.33 L279.85,304.31 L280.89,304.29 L281.93,304.28 L282.96,304.26 L284.00,304.25 L285.04,304.24 L286.07,304.23 L287.11,304.23 L288.15,304.22 L289.19,304.21 L290.23,304.21 L291.26,304.21 L292.30,304.20 L293.34,304.20 L294.38,304.20 L295.41,304.19 L296.45,304.19 L297.49,304.19 L298.52,304.19 L299.56,304.19 L300.60,304.19" fill="none" stroke="#1e3873" stroke-width="1.5" stroke-linejoin="round" stroke-linecap="round"/>
<path d="M217.60,315.82 L218.64,315.82 L219.67,315.82 L220.71,315.82 L221.75,315.82 L222.79,315.82 L223.82,315.82 L224.86,315.82 L225.90,315.82 L226.94,315.82 L227.97,315.82 L229.01,315.82 L230.05,315.82 L231.09,315.83 L232.12,315.83 L233.16,315.83 L234.20,315.83 L235.24,315.83 L236.27,315.83 L237.31,315.84 L238.35,315.84 L239.39,315.84 L240.42,315.85 L241.46,315.86 L242.50,315.86 L243.54,315.87 L244.57,315.88 L245.61,315.90 L246.65,315.91 L247.69,315.93 L248.72,315.95 L249.76,315.98 L250.80,316.02 L251.84,316.06 L252.88,316.10 L253.91,316.16 L254.95,316.23 L255.99,316.32 L257.02,316.42 L258.06,316.54 L259.10,316.68 L260.14,316.86 L261.18,317.07 L262.21,317.32 L263.25,317.62 L264.29,317.98 L265.32,318.40 L266.36,318.91 L267.40,319.51 L268.44,320.22 L269.48,321.06 L270.51,322.03 L271.55,323.17 L272.59,324.49 L273.62,326.00 L274.66,327.73 L275.70,329.67 L276.74,331.84 L277.77,334.23 L278.81,336.83 L279.85,339.62 L280.89,342.57 L281.93,345.62 L282.96,348.75 L284.00,351.88 L285.04,354.97 L286.07,357.97 L287.11,360.82 L288.15,363.50 L289.19,365.98 L290.23,368.24 L291.26,370.27 L292.30,372.09 L293.34,373.68 L294.38,375.07 L295.41,376.28 L296.45,377.32 L297.49,378.21 L298.52,378.97 L299.56,379.61 L300.60,380.15" fill="none" stroke="#1e3873" stroke-width="1.5" stroke-linejoin="round" stroke-linecap="round"/>
<path d="M217.7 324.8 C224 332.5, 231 341, 237.5 346.4 C242 350.2, 247 352.3, 256 352.9 L300.4 353.1" fill="none" stroke="#1e3873" stroke-width="1.5" stroke-linejoin="round" stroke-linecap="round"/>
<text x="419.97" y="278.00" font-size="10.1" textLength="31.26" lengthAdjust="spacingAndGlyphs" font-weight="normal" font-style="italic" fill="#231f20" stroke="#231f20" stroke-width="0.22" >In vivo</text>
<rect x="347.60" y="315.59" width="4.93" height="68.71" fill="#2c4883" />
<rect x="352.53" y="323.68" width="4.93" height="60.62" fill="#2c4883" />
<line x1="352.53" y1="323.68" x2="352.53" y2="384.30" stroke="#cfe0f5" stroke-width="0.55" />
<rect x="357.46" y="331.09" width="4.93" height="53.21" fill="#74b043" />
<line x1="357.46" y1="331.09" x2="357.46" y2="384.30" stroke="#d9ecc5" stroke-width="0.55" />
<rect x="362.39" y="335.13" width="4.93" height="49.17" fill="#2c4883" />
<line x1="362.39" y1="335.13" x2="362.39" y2="384.30" stroke="#cfe0f5" stroke-width="0.55" />
<rect x="367.32" y="339.17" width="4.93" height="45.13" fill="#74b043" />
<line x1="367.32" y1="339.17" x2="367.32" y2="384.30" stroke="#d9ecc5" stroke-width="0.55" />
<rect x="372.25" y="339.84" width="4.93" height="44.46" fill="#74b043" />
<line x1="372.25" y1="339.84" x2="372.25" y2="384.30" stroke="#d9ecc5" stroke-width="0.55" />
<rect x="377.18" y="339.84" width="4.93" height="44.46" fill="#74b043" />
<line x1="377.18" y1="339.84" x2="377.18" y2="384.30" stroke="#d9ecc5" stroke-width="0.55" />
<rect x="382.11" y="347.93" width="4.93" height="36.37" fill="#2c4883" />
<line x1="382.11" y1="347.93" x2="382.11" y2="384.30" stroke="#cfe0f5" stroke-width="0.55" />
<rect x="387.04" y="368.13" width="4.93" height="16.17" fill="#74b043" />
<line x1="387.04" y1="368.13" x2="387.04" y2="384.30" stroke="#d9ecc5" stroke-width="0.55" />
<rect x="391.97" y="379.58" width="4.93" height="4.72" fill="#74b043" />
<line x1="391.97" y1="379.58" x2="391.97" y2="384.30" stroke="#d9ecc5" stroke-width="0.55" />
<line x1="347.20" y1="297.30" x2="347.20" y2="385.10" stroke="#111" stroke-width="1.8" />
<line x1="346.40" y1="384.30" x2="402.70" y2="384.30" stroke="#111" stroke-width="1.8" />
<line x1="344.50" y1="384.30" x2="347.20" y2="384.30" stroke="#111" stroke-width="1.4" />
<text x="336.78" y="387.52" font-size="8.5" fill="#231f20" stroke="#231f20" stroke-width="0.22">0</text>
<line x1="344.50" y1="367.46" x2="347.20" y2="367.46" stroke="#111" stroke-width="1.4" />
<text x="332.10" y="370.68" font-size="8.5" fill="#231f20" stroke="#231f20" stroke-width="0.22">25</text>
<line x1="344.50" y1="350.62" x2="347.20" y2="350.62" stroke="#111" stroke-width="1.4" />
<text x="332.06" y="353.84" font-size="8.5" fill="#231f20" stroke="#231f20" stroke-width="0.22">50</text>
<line x1="344.50" y1="333.78" x2="347.20" y2="333.78" stroke="#111" stroke-width="1.4" />
<text x="332.10" y="337.00" font-size="8.5" fill="#231f20" stroke="#231f20" stroke-width="0.22">75</text>
<line x1="344.50" y1="316.94" x2="347.20" y2="316.94" stroke="#111" stroke-width="1.4" />
<text x="327.34" y="320.16" font-size="8.5" fill="#231f20" stroke="#231f20" stroke-width="0.22">100</text>
<line x1="344.50" y1="300.10" x2="347.20" y2="300.10" stroke="#111" stroke-width="1.4" />
<text x="327.39" y="303.32" font-size="8.5" fill="#231f20" stroke="#231f20" stroke-width="0.22">125</text>
<text x="369.27" y="290.91" font-size="8.2" fill="#231f20" stroke="#231f20" stroke-width="0.22">BM</text>
<rect x="412.50" y="316.94" width="4.93" height="67.36" fill="#2c4883" />
<rect x="417.43" y="321.66" width="4.93" height="62.64" fill="#2c4883" />
<line x1="417.43" y1="321.66" x2="417.43" y2="384.30" stroke="#cfe0f5" stroke-width="0.55" />
<rect x="422.36" y="341.19" width="4.93" height="43.11" fill="#2c4883" />
<line x1="422.36" y1="341.19" x2="422.36" y2="384.30" stroke="#cfe0f5" stroke-width="0.55" />
<rect x="427.29" y="360.05" width="4.93" height="24.25" fill="#74b043" />
<line x1="427.29" y1="360.05" x2="427.29" y2="384.30" stroke="#d9ecc5" stroke-width="0.55" />
<rect x="432.22" y="360.72" width="4.93" height="23.58" fill="#74b043" />
<line x1="432.22" y1="360.72" x2="432.22" y2="384.30" stroke="#d9ecc5" stroke-width="0.55" />
<rect x="437.15" y="360.72" width="4.93" height="23.58" fill="#2c4883" />
<line x1="437.15" y1="360.72" x2="437.15" y2="384.30" stroke="#cfe0f5" stroke-width="0.55" />
<rect x="442.08" y="368.81" width="4.93" height="15.49" fill="#74b043" />
<line x1="442.08" y1="368.81" x2="442.08" y2="384.30" stroke="#d9ecc5" stroke-width="0.55" />
<rect x="447.01" y="376.22" width="4.93" height="8.08" fill="#74b043" />
<line x1="447.01" y1="376.22" x2="447.01" y2="384.30" stroke="#d9ecc5" stroke-width="0.55" />
<line x1="412.10" y1="297.30" x2="412.10" y2="385.10" stroke="#111" stroke-width="1.8" />
<line x1="411.30" y1="384.30" x2="457.90" y2="384.30" stroke="#111" stroke-width="1.8" />
<line x1="409.40" y1="384.30" x2="412.10" y2="384.30" stroke="#111" stroke-width="1.4" />
<line x1="409.40" y1="367.46" x2="412.10" y2="367.46" stroke="#111" stroke-width="1.4" />
<line x1="409.40" y1="350.62" x2="412.10" y2="350.62" stroke="#111" stroke-width="1.4" />
<line x1="409.40" y1="333.78" x2="412.10" y2="333.78" stroke="#111" stroke-width="1.4" />
<line x1="409.40" y1="316.94" x2="412.10" y2="316.94" stroke="#111" stroke-width="1.4" />
<line x1="409.40" y1="300.10" x2="412.10" y2="300.10" stroke="#111" stroke-width="1.4" />
<text x="429.07" y="290.91" font-size="8.2" fill="#231f20" stroke="#231f20" stroke-width="0.22">SP</text>
<rect x="467.60" y="300.10" width="4.93" height="84.20" fill="#2c4883" />
<rect x="472.53" y="302.79" width="4.93" height="81.51" fill="#2c4883" />
<line x1="472.53" y1="302.79" x2="472.53" y2="384.30" stroke="#cfe0f5" stroke-width="0.55" />
<rect x="477.46" y="311.55" width="4.93" height="72.75" fill="#2c4883" />
<line x1="477.46" y1="311.55" x2="477.46" y2="384.30" stroke="#cfe0f5" stroke-width="0.55" />
<rect x="482.39" y="343.21" width="4.93" height="41.09" fill="#2c4883" />
<line x1="482.39" y1="343.21" x2="482.39" y2="384.30" stroke="#cfe0f5" stroke-width="0.55" />
<rect x="487.32" y="360.72" width="4.93" height="23.58" fill="#74b043" />
<line x1="487.32" y1="360.72" x2="487.32" y2="384.30" stroke="#d9ecc5" stroke-width="0.55" />
<rect x="492.25" y="360.72" width="4.93" height="23.58" fill="#74b043" />
<line x1="492.25" y1="360.72" x2="492.25" y2="384.30" stroke="#d9ecc5" stroke-width="0.55" />
<rect x="497.18" y="368.81" width="4.93" height="15.49" fill="#74b043" />
<line x1="497.18" y1="368.81" x2="497.18" y2="384.30" stroke="#d9ecc5" stroke-width="0.55" />
<rect x="502.11" y="376.22" width="4.93" height="8.08" fill="#74b043" />
<line x1="502.11" y1="376.22" x2="502.11" y2="384.30" stroke="#d9ecc5" stroke-width="0.55" />
<line x1="467.20" y1="297.30" x2="467.20" y2="385.10" stroke="#111" stroke-width="1.8" />
<line x1="466.40" y1="384.30" x2="512.30" y2="384.30" stroke="#111" stroke-width="1.8" />
<line x1="464.50" y1="384.30" x2="467.20" y2="384.30" stroke="#111" stroke-width="1.4" />
<line x1="464.50" y1="367.46" x2="467.20" y2="367.46" stroke="#111" stroke-width="1.4" />
<line x1="464.50" y1="350.62" x2="467.20" y2="350.62" stroke="#111" stroke-width="1.4" />
<line x1="464.50" y1="333.78" x2="467.20" y2="333.78" stroke="#111" stroke-width="1.4" />
<line x1="464.50" y1="316.94" x2="467.20" y2="316.94" stroke="#111" stroke-width="1.4" />
<line x1="464.50" y1="300.10" x2="467.20" y2="300.10" stroke="#111" stroke-width="1.4" />
<text x="484.42" y="290.91" font-size="8.2" fill="#231f20" stroke="#231f20" stroke-width="0.22">PB</text>
<text x="358.20" y="325.16" font-size="7.2" fill="#231f20" stroke="#231f20" stroke-width="0.22">#</text>
<text x="377.70" y="335.46" font-size="7.2" fill="#231f20" stroke="#231f20" stroke-width="0.22">#</text>
<text transform="translate(320.59,363.54) rotate(-90)" x="0" y="0" font-size="10.4" textLength="46.68" lengthAdjust="spacingAndGlyphs" fill="#231f20" stroke="#231f20" stroke-width="0.22">Survival %</text>
<text x="348.65" y="398.50" font-size="10.1" textLength="159.18" lengthAdjust="spacingAndGlyphs" font-weight="normal" font-style="normal" fill="#231f20" stroke="#231f20" stroke-width="0.22" ># low engraftment, below threshold in</text>
<text x="405.42" y="411.70" font-size="10.1" textLength="40.63" lengthAdjust="spacingAndGlyphs" font-weight="normal" font-style="normal" fill="#231f20" stroke="#231f20" stroke-width="0.22" >SP and PB</text>
<line x1="41.10" y1="463.10" x2="41.10" y2="604.60" stroke="#111" stroke-width="1.8" />
<line x1="40.30" y1="603.80" x2="134.00" y2="603.80" stroke="#111" stroke-width="1.8" />
<line x1="38.30" y1="603.80" x2="41.10" y2="603.80" stroke="#111" stroke-width="1.4" />
<text x="30.18" y="606.82" font-size="8.5" fill="#231f20" stroke="#231f20" stroke-width="0.22">0</text>
<line x1="39.40" y1="590.02" x2="41.10" y2="590.02" stroke="#111" stroke-width="0.7" />
<line x1="39.40" y1="581.96" x2="41.10" y2="581.96" stroke="#111" stroke-width="0.7" />
<line x1="39.40" y1="576.24" x2="41.10" y2="576.24" stroke="#111" stroke-width="0.7" />
<line x1="39.40" y1="571.81" x2="41.10" y2="571.81" stroke="#111" stroke-width="0.7" />
<line x1="39.40" y1="568.18" x2="41.10" y2="568.18" stroke="#111" stroke-width="0.7" />
<line x1="39.40" y1="565.12" x2="41.10" y2="565.12" stroke="#111" stroke-width="0.7" />
<line x1="39.40" y1="562.47" x2="41.10" y2="562.47" stroke="#111" stroke-width="0.7" />
<line x1="39.40" y1="560.12" x2="41.10" y2="560.12" stroke="#111" stroke-width="0.7" />
<line x1="38.30" y1="558.03" x2="41.10" y2="558.03" stroke="#111" stroke-width="1.4" />
<text x="30.27" y="561.05" font-size="8.5" fill="#231f20" stroke="#231f20" stroke-width="0.22">1</text>
<line x1="39.40" y1="544.25" x2="41.10" y2="544.25" stroke="#111" stroke-width="0.7" />
<line x1="39.40" y1="536.19" x2="41.10" y2="536.19" stroke="#111" stroke-width="0.7" />
<line x1="39.40" y1="530.47" x2="41.10" y2="530.47" stroke="#111" stroke-width="0.7" />
<line x1="39.40" y1="526.04" x2="41.10" y2="526.04" stroke="#111" stroke-width="0.7" />
<line x1="39.40" y1="522.41" x2="41.10" y2="522.41" stroke="#111" stroke-width="0.7" />
<line x1="39.40" y1="519.35" x2="41.10" y2="519.35" stroke="#111" stroke-width="0.7" />
<line x1="39.40" y1="516.70" x2="41.10" y2="516.70" stroke="#111" stroke-width="0.7" />
<line x1="39.40" y1="514.35" x2="41.10" y2="514.35" stroke="#111" stroke-width="0.7" />
<line x1="38.30" y1="512.26" x2="41.10" y2="512.26" stroke="#111" stroke-width="1.4" />
<text x="30.31" y="515.28" font-size="8.5" fill="#231f20" stroke="#231f20" stroke-width="0.22">2</text>
<line x1="39.40" y1="498.48" x2="41.10" y2="498.48" stroke="#111" stroke-width="0.7" />
<line x1="39.40" y1="490.42" x2="41.10" y2="490.42" stroke="#111" stroke-width="0.7" />
<line x1="39.40" y1="484.70" x2="41.10" y2="484.70" stroke="#111" stroke-width="0.7" />
<line x1="39.40" y1="480.27" x2="41.10" y2="480.27" stroke="#111" stroke-width="0.7" />
<line x1="39.40" y1="476.64" x2="41.10" y2="476.64" stroke="#111" stroke-width="0.7" />
<line x1="39.40" y1="473.58" x2="41.10" y2="473.58" stroke="#111" stroke-width="0.7" />
<line x1="39.40" y1="470.93" x2="41.10" y2="470.93" stroke="#111" stroke-width="0.7" />
<line x1="39.40" y1="468.58" x2="41.10" y2="468.58" stroke="#111" stroke-width="0.7" />
<line x1="38.30" y1="466.49" x2="41.10" y2="466.49" stroke="#111" stroke-width="1.4" />
<text x="30.22" y="469.51" font-size="8.5" fill="#231f20" stroke="#231f20" stroke-width="0.22">3</text>
<text transform="translate(24.82,564.46) rotate(-90)" x="0" y="0" font-size="10.2" textLength="61.80" lengthAdjust="spacingAndGlyphs" fill="#231f20" stroke="#231f20" stroke-width="0.22">log IC50 (nm)</text>
<text x="69.29" y="615.40" font-size="8.8" textLength="36.85" lengthAdjust="spacingAndGlyphs" font-weight="normal" font-style="normal" fill="#231f20" stroke="#231f20" stroke-width="0.22" >Dasatinib</text>
<circle cx="62.10" cy="466.75" r="1.95" fill="#33466f" stroke="#1b2545" stroke-width="0.75"/>
<circle cx="65.33" cy="466.75" r="1.95" fill="#33466f" stroke="#1b2545" stroke-width="0.75"/>
<circle cx="68.56" cy="466.75" r="1.95" fill="#33466f" stroke="#1b2545" stroke-width="0.75"/>
<circle cx="71.79" cy="466.75" r="1.95" fill="#33466f" stroke="#1b2545" stroke-width="0.75"/>
<circle cx="75.02" cy="466.75" r="1.95" fill="#33466f" stroke="#1b2545" stroke-width="0.75"/>
<circle cx="78.25" cy="466.75" r="1.95" fill="#33466f" stroke="#1b2545" stroke-width="0.75"/>
<circle cx="81.48" cy="466.75" r="1.95" fill="#33466f" stroke="#1b2545" stroke-width="0.75"/>
<circle cx="84.71" cy="466.75" r="1.95" fill="#33466f" stroke="#1b2545" stroke-width="0.75"/>
<circle cx="94.40" cy="466.75" r="1.95" fill="#33466f" stroke="#1b2545" stroke-width="0.75"/>
<circle cx="97.67" cy="466.75" r="1.95" fill="#33466f" stroke="#1b2545" stroke-width="0.75"/>
<circle cx="100.94" cy="466.75" r="1.95" fill="#33466f" stroke="#1b2545" stroke-width="0.75"/>
<circle cx="104.21" cy="466.75" r="1.95" fill="#33466f" stroke="#1b2545" stroke-width="0.75"/>
<circle cx="107.48" cy="466.75" r="1.95" fill="#33466f" stroke="#1b2545" stroke-width="0.75"/>
<circle cx="110.75" cy="466.75" r="1.95" fill="#33466f" stroke="#1b2545" stroke-width="0.75"/>
<circle cx="114.02" cy="466.75" r="1.95" fill="#33466f" stroke="#1b2545" stroke-width="0.75"/>
<circle cx="91.00" cy="469.50" r="1.95" fill="#33466f" stroke="#1b2545" stroke-width="0.75"/>
<circle cx="88.10" cy="474.50" r="1.95" fill="#33466f" stroke="#1b2545" stroke-width="0.75"/>
<circle cx="82.50" cy="480.25" r="1.95" fill="#33466f" stroke="#1b2545" stroke-width="0.75"/>
<circle cx="93.10" cy="490.20" r="1.95" fill="#33466f" stroke="#1b2545" stroke-width="0.75"/>
<circle cx="93.10" cy="498.70" r="1.95" fill="#33466f" stroke="#1b2545" stroke-width="0.75"/>
<circle cx="82.90" cy="502.10" r="1.95" fill="#33466f" stroke="#1b2545" stroke-width="0.75"/>
<circle cx="82.90" cy="512.70" r="1.95" fill="#33466f" stroke="#1b2545" stroke-width="0.75"/>
<circle cx="93.10" cy="514.00" r="1.95" fill="#33466f" stroke="#1b2545" stroke-width="0.75"/>
<circle cx="93.10" cy="518.50" r="1.95" fill="#33466f" stroke="#1b2545" stroke-width="0.75"/>
<circle cx="82.90" cy="527.70" r="1.95" fill="#33466f" stroke="#1b2545" stroke-width="0.75"/>
<circle cx="77.50" cy="538.80" r="1.95" fill="#33466f" stroke="#1b2545" stroke-width="0.75"/>
<circle cx="88.00" cy="541.30" r="1.95" fill="#33466f" stroke="#1b2545" stroke-width="0.75"/>
<circle cx="93.00" cy="554.30" r="1.95" fill="#33466f" stroke="#1b2545" stroke-width="0.75"/>
<circle cx="82.50" cy="557.50" r="1.95" fill="#33466f" stroke="#1b2545" stroke-width="0.75"/>
<circle cx="82.50" cy="565.50" r="1.95" fill="#33466f" stroke="#1b2545" stroke-width="0.75"/>
<circle cx="93.00" cy="568.00" r="1.95" fill="#33466f" stroke="#1b2545" stroke-width="0.75"/>
<circle cx="77.50" cy="583.00" r="1.95" fill="#33466f" stroke="#1b2545" stroke-width="0.75"/>
<circle cx="98.00" cy="587.00" r="1.95" fill="#33466f" stroke="#1b2545" stroke-width="0.75"/>
<circle cx="88.00" cy="591.50" r="1.95" fill="#33466f" stroke="#1b2545" stroke-width="0.75"/>
<circle cx="98.50" cy="535.30" r="3.10" fill="#b3123a" stroke="#7a0a26" stroke-width="0.75"/>
<path d="M100.9 513.4 L112.7 513.4 Q115.5 513.4 115.5 516.4 L115.5 547.9 Q115.5 552.2 121 552.5 L127.8 552.7 L121 553.2 Q115.5 553.5 115.5 557.4 L115.5 589.3 Q115.5 592.3 112.7 592.3 L100.9 592.3" fill="none" stroke="#111" stroke-width="1.3"/>
<text x="132.73" y="555.90" font-size="8.0" textLength="16.77" lengthAdjust="spacingAndGlyphs" font-weight="normal" font-style="normal" fill="#231f20" stroke="#231f20" stroke-width="0.22" >40%</text>
<defs><filter id="b05" filterUnits="userSpaceOnUse" x="0" y="0" width="520" height="653"><feGaussianBlur stdDeviation="0.5"/></filter><filter id="b1" filterUnits="userSpaceOnUse" x="0" y="0" width="520" height="653"><feGaussianBlur stdDeviation="0.9"/></filter><filter id="b2" filterUnits="userSpaceOnUse" x="0" y="0" width="520" height="653"><feGaussianBlur stdDeviation="1.6"/></filter><filter id="b3" filterUnits="userSpaceOnUse" x="0" y="0" width="520" height="653"><feGaussianBlur stdDeviation="3"/></filter><filter id="b5" filterUnits="userSpaceOnUse" x="0" y="0" width="520" height="653"><feGaussianBlur stdDeviation="5"/></filter><filter id="nz" x="0" y="0" width="100%" height="100%"><feTurbulence type="fractalNoise" baseFrequency="0.17" numOctaves="2" seed="7"/><feColorMatrix type="matrix" values="0 0 0 0 0  0 0 0 0 0  0 0 0 0 0  -2.0 0 0 0 1.05"/><feGaussianBlur stdDeviation="0.7"/></filter><clipPath id="c0"><rect x="185" y="444" width="120" height="186.3"/></clipPath><clipPath id="c90"><rect x="325" y="444" width="120" height="186.3"/></clipPath></defs>
<defs><clipPath id="bd0"><path d="M189.0,443.0 L209.0,443.0 L218.0,451.0 L228.0,459.0 L238.0,466.0 L241.0,478.0 L234.0,492.0 L228.8,489.6 L223.0,480.4 L213.8,471.0 L200.0,463.0 L189.2,455.0Z M275.0,443.0 L294.5,443.0 L298.0,455.0 L300.5,470.0 L299.0,486.0 L290.0,490.0 L283.0,478.0 L279.0,466.0Z M238.0,470.0 L250.0,460.0 L270.0,460.0 L282.0,474.0 L295.0,484.0 L293.0,500.0 L291.5,520.0 L291.5,560.0 L293.5,590.0 L295.0,631.0 L217.5,631.0 L218.5,600.0 L222.0,580.0 L226.0,560.0 L227.5,520.0 L228.0,500.0 L232.0,485.0Z"/></clipPath><mask id="m0" maskUnits="userSpaceOnUse" x="180" y="440" width="130" height="195"><rect x="180" y="440" width="130" height="195" fill="#333"/><ellipse cx="259" cy="500" rx="30" ry="28" fill="#fff" filter="url(#b5)"/><ellipse cx="258" cy="560" rx="30" ry="35" fill="#ddd" filter="url(#b5)"/><ellipse cx="215" cy="468" rx="20" ry="8" fill="#666" transform="rotate(35 215 468)" filter="url(#b3)"/></mask></defs>
<g clip-path="url(#c0)">
<path d="M189.0,443.0 L209.0,443.0 L218.0,451.0 L228.0,459.0 L238.0,466.0 L241.0,478.0 L234.0,492.0 L228.8,489.6 L223.0,480.4 L213.8,471.0 L200.0,463.0 L189.2,455.0Z" fill="#eeeeee" filter="url(#b2)" />
<path d="M275.0,443.0 L294.5,443.0 L298.0,455.0 L300.5,470.0 L299.0,486.0 L290.0,490.0 L283.0,478.0 L279.0,466.0Z" fill="#ebebeb" filter="url(#b2)" />
<path d="M238.0,470.0 L250.0,460.0 L270.0,460.0 L282.0,474.0 L295.0,484.0 L293.0,500.0 L291.5,520.0 L291.5,560.0 L293.5,590.0 L295.0,631.0 L217.5,631.0 L218.5,600.0 L222.0,580.0 L226.0,560.0 L227.5,520.0 L228.0,500.0 L232.0,485.0Z" fill="#ebebeb" filter="url(#b2)" />
<ellipse cx="259.00" cy="494.00" rx="27" ry="20" fill="#b4b4b4" filter="url(#b5)" />
<ellipse cx="259.00" cy="540.00" rx="27" ry="28" fill="#c4c4c4" filter="url(#b5)" />
<ellipse cx="257.00" cy="585.00" rx="27" ry="14" fill="#bdbdbd" filter="url(#b5)" />
<ellipse cx="256.00" cy="614.00" rx="30" ry="16" fill="#dcdcdc" filter="url(#b5)" />
<ellipse cx="216.00" cy="468.00" rx="14" ry="5" fill="#e2e2e2" filter="url(#b3)" transform="rotate(35 216 468)"/>
<ellipse cx="288.00" cy="462.00" rx="8" ry="14" fill="#d6d6d6" filter="url(#b3)" />
<g clip-path="url(#bd0)" mask="url(#m0)"><rect x="180" y="440" width="130" height="195" filter="url(#nz)" opacity="0.75"/></g>
<path d="M190 452 Q205 462 218 467 Q226 470 232 473" fill="none" stroke="#a5a5a5" stroke-width="1.6" stroke-linecap="round" stroke-linejoin="round" filter="url(#b1)" />
<path d="M189.8 446 L190.5 456 Q196 461 203 463" fill="none" stroke="#8a8a8a" stroke-width="2" stroke-linecap="round" stroke-linejoin="round" filter="url(#b1)" />
<ellipse cx="258.00" cy="466.00" rx="12" ry="12" fill="#a8a8a8" filter="url(#b2)" />
<ellipse cx="268.70" cy="457.30" rx="3.5" ry="4" fill="#8c8c8c" filter="url(#b1)" />
<ellipse cx="291.20" cy="451.50" rx="2" ry="2" fill="#888" filter="url(#b1)" />
<ellipse cx="252.00" cy="470.00" rx="4" ry="5" fill="#999" filter="url(#b1)" />
<path d="M239 443 L270 443 Q270.5 449 267 451.5 Q262 455 251 455.5 Q241 455.5 239.2 451 Z" fill="#000" filter="url(#b05)" />
<ellipse cx="193.00" cy="445.00" rx="1.6" ry="1.6" fill="#666" filter="url(#b1)" />
<ellipse cx="189.80" cy="452.00" rx="1.8" ry="1.8" fill="#777" filter="url(#b1)" />
<ellipse cx="202.30" cy="461.30" rx="1.5" ry="1.5" fill="#999" filter="url(#b1)" />
<ellipse cx="210.40" cy="464.20" rx="1.9" ry="1.9" fill="#555" filter="url(#b1)" />
<ellipse cx="219.00" cy="467.10" rx="2.2" ry="2.2" fill="#111" filter="url(#b1)" />
<ellipse cx="226.00" cy="469.40" rx="2" ry="2" fill="#222" filter="url(#b1)" />
<ellipse cx="231.70" cy="471.70" rx="3.4" ry="3.4" fill="#0a0a0a" filter="url(#b1)" />
<ellipse cx="229.40" cy="474.60" rx="2.2" ry="2.2" fill="#333" filter="url(#b1)" />
<ellipse cx="236.00" cy="476.00" rx="2" ry="2" fill="#666" filter="url(#b1)" />
<ellipse cx="292.30" cy="478.10" rx="2.6" ry="2.6" fill="#0a0a0a" filter="url(#b1)" />
<ellipse cx="294.60" cy="471.20" rx="1.8" ry="1.8" fill="#444" filter="url(#b1)" />
<ellipse cx="287.10" cy="479.20" rx="2" ry="2" fill="#555" filter="url(#b1)" />
<ellipse cx="283.00" cy="485.00" rx="1.6" ry="1.6" fill="#777" filter="url(#b1)" />
<ellipse cx="289.00" cy="488.00" rx="1.6" ry="1.6" fill="#888" filter="url(#b1)" />
<ellipse cx="240.00" cy="494.00" rx="12" ry="18" fill="#bababa" filter="url(#b3)" />
<ellipse cx="281.00" cy="494.00" rx="12" ry="18" fill="#bdbdbd" filter="url(#b3)" />
<path d="M262 466 L262 503" fill="none" stroke="#555" stroke-width="9" stroke-linecap="round" stroke-linejoin="round" filter="url(#b1)" />
<ellipse cx="262.00" cy="472.00" rx="4.3" ry="1.5" fill="#303030" filter="url(#b1)" />
<ellipse cx="262.00" cy="476.00" rx="4.3" ry="1.5" fill="#303030" filter="url(#b1)" />
<ellipse cx="262.00" cy="480.20" rx="4.3" ry="1.5" fill="#303030" filter="url(#b1)" />
<ellipse cx="262.00" cy="484.00" rx="4.3" ry="1.5" fill="#303030" filter="url(#b1)" />
<ellipse cx="262.00" cy="487.40" rx="4.3" ry="1.5" fill="#303030" filter="url(#b1)" />
<ellipse cx="262.00" cy="491.20" rx="4.3" ry="1.5" fill="#303030" filter="url(#b1)" />
<ellipse cx="262.00" cy="494.60" rx="4.3" ry="1.5" fill="#303030" filter="url(#b1)" />
<ellipse cx="262.00" cy="498.80" rx="4.3" ry="1.5" fill="#303030" filter="url(#b1)" />
<path d="M266 478 Q276 475.5 284 480" fill="none" stroke="#8a8a8a" stroke-width="1.5" stroke-linecap="round" stroke-linejoin="round" filter="url(#b1)" />
<path d="M258 478 Q249 475.5 240 480" fill="none" stroke="#a0a0a0" stroke-width="1.4" stroke-linecap="round" stroke-linejoin="round" filter="url(#b1)" />
<path d="M266 484 Q276 481.5 284 486" fill="none" stroke="#8a8a8a" stroke-width="1.5" stroke-linecap="round" stroke-linejoin="round" filter="url(#b1)" />
<path d="M258 484 Q249 481.5 240 486" fill="none" stroke="#a0a0a0" stroke-width="1.4" stroke-linecap="round" stroke-linejoin="round" filter="url(#b1)" />
<path d="M266 490 Q276 487.5 284 492" fill="none" stroke="#8a8a8a" stroke-width="1.5" stroke-linecap="round" stroke-linejoin="round" filter="url(#b1)" />
<path d="M258 490 Q249 487.5 240 492" fill="none" stroke="#a0a0a0" stroke-width="1.4" stroke-linecap="round" stroke-linejoin="round" filter="url(#b1)" />
<path d="M266 496 Q276 493.5 284 498" fill="none" stroke="#8a8a8a" stroke-width="1.5" stroke-linecap="round" stroke-linejoin="round" filter="url(#b1)" />
<path d="M258 496 Q249 493.5 240 498" fill="none" stroke="#a0a0a0" stroke-width="1.4" stroke-linecap="round" stroke-linejoin="round" filter="url(#b1)" />
<path d="M266 502 Q276 499.5 284 504" fill="none" stroke="#8a8a8a" stroke-width="1.5" stroke-linecap="round" stroke-linejoin="round" filter="url(#b1)" />
<path d="M258 502 Q249 499.5 240 504" fill="none" stroke="#a0a0a0" stroke-width="1.4" stroke-linecap="round" stroke-linejoin="round" filter="url(#b1)" />
<ellipse cx="246.60" cy="483.80" rx="1.4" ry="2.4" fill="#222" filter="url(#b1)" />
<ellipse cx="242.00" cy="486.20" rx="1.6" ry="1.6" fill="#777" filter="url(#b1)" />
<ellipse cx="237.40" cy="493.00" rx="1.8" ry="1.8" fill="#555" filter="url(#b1)" />
<ellipse cx="235.80" cy="499.20" rx="1.8" ry="1.8" fill="#444" filter="url(#b1)" />
<ellipse cx="238.20" cy="503.00" rx="1.8" ry="1.8" fill="#333" filter="url(#b1)" />
<ellipse cx="228.90" cy="487.00" rx="1.6" ry="1.6" fill="#999" filter="url(#b1)" />
<ellipse cx="244.00" cy="496.00" rx="1.5" ry="1.5" fill="#777" filter="url(#b1)" />
<ellipse cx="232.00" cy="507.00" rx="1.6" ry="1.6" fill="#888" filter="url(#b1)" />
<ellipse cx="283.40" cy="480.20" rx="1.6" ry="1.6" fill="#888" filter="url(#b1)" />
<ellipse cx="278.30" cy="487.80" rx="1.6" ry="1.6" fill="#555" filter="url(#b1)" />
<ellipse cx="283.40" cy="498.80" rx="1.7" ry="1.7" fill="#444" filter="url(#b1)" />
<ellipse cx="289.30" cy="509.00" rx="1.7" ry="1.7" fill="#444" filter="url(#b1)" />
<ellipse cx="281.70" cy="484.50" rx="1.4" ry="1.4" fill="#777" filter="url(#b1)" />
<ellipse cx="287.00" cy="492.00" rx="1.5" ry="1.5" fill="#777" filter="url(#b1)" />
<ellipse cx="276.00" cy="503.00" rx="1.5" ry="1.5" fill="#888" filter="url(#b1)" />
<path d="M259.3 518 L259.3 570" fill="none" stroke="#858585" stroke-width="10" stroke-linecap="round" stroke-linejoin="round" filter="url(#b1)" />
<rect x="254.2" y="519.1" width="10.4" height="3.8" rx="1.6" fill="#0e0e0e" filter="url(#b05)"/>
<rect x="254.2" y="524.3" width="10.4" height="3.8" rx="1.6" fill="#0e0e0e" filter="url(#b05)"/>
<rect x="254.2" y="530.3" width="10.4" height="3.8" rx="1.6" fill="#0e0e0e" filter="url(#b05)"/>
<rect x="254.2" y="536.4" width="10.4" height="3.8" rx="1.6" fill="#0e0e0e" filter="url(#b05)"/>
<rect x="254.2" y="543.3" width="10.4" height="3.8" rx="1.6" fill="#0e0e0e" filter="url(#b05)"/>
<rect x="254.2" y="550.2" width="10.4" height="3.8" rx="1.6" fill="#0e0e0e" filter="url(#b05)"/>
<rect x="254.2" y="557.1" width="10.4" height="3.8" rx="1.6" fill="#0e0e0e" filter="url(#b05)"/>
<rect x="254.2" y="564.1" width="10.4" height="3.8" rx="1.6" fill="#0e0e0e" filter="url(#b05)"/>
<path d="M253.5 489 L254.3 518" fill="none" stroke="#0a0a0a" stroke-width="5.6" stroke-linecap="round" stroke-linejoin="round" filter="url(#b05)" />
<path d="M257 504 Q259 500 267 501.5 Q276 503 276 511 Q277.5 516 273 519 Q267 522.5 260 520.5 Q256 514 257 504Z" fill="#000" filter="url(#b05)" />
<path d="M230 516 Q238 512 250 514 Q256 518 254.5 528 Q252 537 244 538.5 Q233 539 230.5 532 Q229 524 230 516Z" fill="#8e8e8e" filter="url(#b1)" />
<ellipse cx="249.00" cy="533.00" rx="4" ry="4" fill="#7a7a7a" filter="url(#b2)" />
<ellipse cx="281.80" cy="525.00" rx="6.2" ry="9.5" fill="#a8a8a8" filter="url(#b2)" />
<ellipse cx="246.80" cy="544.30" rx="4.8" ry="8.2" fill="#4a4a4a" filter="url(#b1)" />
<ellipse cx="247.30" cy="544.30" rx="2" ry="4.2" fill="#8a8a8a" filter="url(#b1)" />
<ellipse cx="274.50" cy="535.50" rx="5.2" ry="8.2" fill="#4e4e4e" filter="url(#b1)" />
<ellipse cx="274.00" cy="536.00" rx="2.2" ry="4.2" fill="#949494" filter="url(#b1)" />
<ellipse cx="241.00" cy="576.00" rx="8" ry="6" fill="#9a9a9a" filter="url(#b2)" />
<path d="M232.5 580 Q233 572 236.5 571.5 Q243 568.5 249 569.5" fill="none" stroke="#1a1a1a" stroke-width="3.2" stroke-linecap="round" stroke-linejoin="round" filter="url(#b05)" />
<ellipse cx="276.00" cy="572.00" rx="6" ry="6" fill="#9a9a9a" filter="url(#b2)" />
<path d="M268.7 568 Q274 565 277 565.5 Q281 568.5 281 575" fill="none" stroke="#1a1a1a" stroke-width="3.2" stroke-linecap="round" stroke-linejoin="round" filter="url(#b05)" />
<ellipse cx="240.30" cy="577.50" rx="3.6" ry="3.2" fill="#e8e8e8" filter="url(#b1)" />
<ellipse cx="258.50" cy="572.00" rx="5" ry="3.5" fill="#444" filter="url(#b1)" />
<ellipse cx="258.00" cy="578.00" rx="8" ry="5" fill="#888" filter="url(#b2)" />
<path d="M243.7 581.6 L250.7 599.8 L251.5 610" fill="none" stroke="#2a2a2a" stroke-width="2.4" stroke-linecap="round" stroke-linejoin="round" filter="url(#b05)" />
<path d="M274 583 L266 598" fill="none" stroke="#333" stroke-width="2.4" stroke-linecap="round" stroke-linejoin="round" filter="url(#b05)" />
<ellipse cx="259.00" cy="582.00" rx="9" ry="8" fill="#9a9a9a" filter="url(#b2)" />
<ellipse cx="258.50" cy="592.00" rx="7.5" ry="4.8" fill="#aaa" filter="url(#b1)" />
<ellipse cx="258.50" cy="592.00" rx="6" ry="3.5" fill="#000" filter="url(#b05)" />
<ellipse cx="233.40" cy="597.20" rx="2.8" ry="3.2" fill="#111" filter="url(#b05)" />
<ellipse cx="282.70" cy="595.50" rx="2.6" ry="3" fill="#111" filter="url(#b05)" />
<path d="M234.2 596 L230.8 629.5" fill="none" stroke="#0d0d0d" stroke-width="2.6" stroke-linecap="round" stroke-linejoin="round" filter="url(#b05)" />
<path d="M281.8 596 L274.9 629.5" fill="none" stroke="#0d0d0d" stroke-width="2.6" stroke-linecap="round" stroke-linejoin="round" filter="url(#b05)" />
<ellipse cx="248.00" cy="605.00" rx="2" ry="3" fill="#555" filter="url(#b1)" />
<ellipse cx="255.30" cy="615.00" rx="2.5" ry="2.5" fill="#333" filter="url(#b05)" />
<ellipse cx="262.00" cy="606.00" rx="3" ry="5" fill="#999" filter="url(#b1)" />
</g>
<text x="240.95" y="642.60" font-size="10.1" textLength="27.64" lengthAdjust="spacingAndGlyphs" font-weight="normal" font-style="normal" fill="#231f20" stroke="#231f20" stroke-width="0.22" >Day 0</text>
<rect x="181.80" y="614.40" width="3.30" height="4.20" fill="#c4c4c4" />
<rect x="181.20" y="620.20" width="4.60" height="4.60" fill="#bdbdbd" />
<defs><clipPath id="bd9"><path d="M328.5,443.0 L348.1,443.0 L353.8,460.8 L371.2,467.7 L379.2,472.3 L378.0,485.0 L368.8,497.7 L363.0,488.5 L353.8,478.0 L338.8,468.8 L328.5,460.8Z M418.0,443.0 L434.2,443.0 L437.0,460.0 L438.0,480.0 L434.0,492.0 L424.0,488.0 L421.0,470.0Z M376.0,468.0 L390.0,458.0 L410.0,458.0 L422.0,472.0 L434.0,486.0 L432.0,500.0 L429.5,520.0 L428.5,560.0 L427.5,590.0 L427.7,631.0 L363.7,631.0 L365.0,600.0 L366.2,570.0 L366.2,520.0 L368.8,500.0 L372.0,485.0Z"/></clipPath><mask id="m9" maskUnits="userSpaceOnUse" x="320" y="440" width="130" height="195"><rect x="320" y="440" width="130" height="195" fill="#333"/><ellipse cx="398" cy="545" rx="30" ry="45" fill="#ccc" filter="url(#b5)"/></mask></defs>
<g clip-path="url(#c90)">
<path d="M328.5,443.0 L348.1,443.0 L353.8,460.8 L371.2,467.7 L379.2,472.3 L378.0,485.0 L368.8,497.7 L363.0,488.5 L353.8,478.0 L338.8,468.8 L328.5,460.8Z" fill="#e6e6e6" filter="url(#b2)" />
<path d="M418.0,443.0 L434.2,443.0 L437.0,460.0 L438.0,480.0 L434.0,492.0 L424.0,488.0 L421.0,470.0Z" fill="#e4e4e4" filter="url(#b2)" />
<path d="M376.0,468.0 L390.0,458.0 L410.0,458.0 L422.0,472.0 L434.0,486.0 L432.0,500.0 L429.5,520.0 L428.5,560.0 L427.5,590.0 L427.7,631.0 L363.7,631.0 L365.0,600.0 L366.2,570.0 L366.2,520.0 L368.8,500.0 L372.0,485.0Z" fill="#ebebeb" filter="url(#b2)" />
<ellipse cx="400.00" cy="500.00" rx="22" ry="22" fill="#cfcfcf" filter="url(#b5)" />
<ellipse cx="398.00" cy="550.00" rx="26" ry="26" fill="#c2c2c2" filter="url(#b5)" />
<ellipse cx="398.00" cy="558.00" rx="22" ry="26" fill="#bababa" filter="url(#b3)" />
<ellipse cx="397.00" cy="494.00" rx="10" ry="18" fill="#bcbcbc" filter="url(#b3)" />
<ellipse cx="398.00" cy="590.00" rx="24" ry="14" fill="#cdcdcd" filter="url(#b5)" />
<ellipse cx="397.00" cy="615.00" rx="30" ry="16" fill="#e2e2e2" filter="url(#b5)" />
<ellipse cx="345.00" cy="462.00" rx="14" ry="6" fill="#dadada" filter="url(#b3)" transform="rotate(35 345 462)"/>
<ellipse cx="427.00" cy="465.00" rx="7" ry="12" fill="#dcdcdc" filter="url(#b3)" />
<g clip-path="url(#bd9)" mask="url(#m9)"><rect x="320" y="440" width="130" height="195" filter="url(#nz)" opacity="0.6"/></g>
<path d="M379.2 443 L412 443 Q412.5 450 409 453 Q404 455.5 395 455.5 Q385 455.5 381 452.5 Q379 449 379.2 443 Z" fill="#000" filter="url(#b05)" />
<ellipse cx="391.00" cy="467.50" rx="9" ry="10" fill="#a0a0a0" filter="url(#b2)" />
<ellipse cx="391.00" cy="467.00" rx="4" ry="4" fill="#7a7a7a" filter="url(#b1)" />
<ellipse cx="397.00" cy="482.00" rx="7" ry="8" fill="#c4c4c4" filter="url(#b2)" />
<ellipse cx="396.00" cy="500.00" rx="6" ry="10" fill="#bdbdbd" filter="url(#b2)" />
<ellipse cx="404.30" cy="515.80" rx="6.3" ry="7.5" fill="#7d7d7d" filter="url(#b1)" />
<ellipse cx="404.30" cy="515.80" rx="3.2" ry="4" fill="#9c9c9c" filter="url(#b1)" />
<path d="M370.5 519 Q380 515.5 396 517.5 Q401 521 400 530 Q397 539 388 540 Q378 541 373 546 Q370 540 370.5 519Z" fill="#8a8a8a" filter="url(#b1)" />
<ellipse cx="410.00" cy="528.00" rx="9" ry="6" fill="#b0b0b0" filter="url(#b2)" />
<path d="M407 524.4 Q416 520 426 522.7" fill="none" stroke="#c0c0c0" stroke-width="2.2" stroke-linecap="round" stroke-linejoin="round" filter="url(#b1)" />
<ellipse cx="388.00" cy="546.00" rx="4.4" ry="8.5" fill="#585858" filter="url(#b1)" />
<ellipse cx="389.00" cy="544.00" rx="2" ry="4" fill="#707070" filter="url(#b1)" />
<ellipse cx="378.00" cy="566.00" rx="5" ry="8" fill="#aaaaaa" filter="url(#b2)" />
<ellipse cx="396.00" cy="576.00" rx="6" ry="5" fill="#b2b2b2" filter="url(#b2)" />
<ellipse cx="401.00" cy="548.00" rx="5" ry="6" fill="#ababab" filter="url(#b2)" />
<ellipse cx="381.00" cy="586.00" rx="4" ry="4" fill="#b8b8b8" filter="url(#b2)" />
<ellipse cx="414.70" cy="534.80" rx="5" ry="7" fill="#5a5a5a" filter="url(#b1)" />
<ellipse cx="415.50" cy="535.50" rx="2.2" ry="3.5" fill="#999" filter="url(#b1)" />
<ellipse cx="380.00" cy="560.00" rx="3" ry="3" fill="#aaa" filter="url(#b1)" />
<ellipse cx="381.80" cy="576.40" rx="2.5" ry="2.5" fill="#888" filter="url(#b1)" />
<ellipse cx="396.00" cy="552.00" rx="3" ry="3" fill="#b0b0b0" filter="url(#b1)" />
<ellipse cx="405.00" cy="560.00" rx="3" ry="3" fill="#b5b5b5" filter="url(#b1)" />
<ellipse cx="410.00" cy="548.00" rx="2.5" ry="2.5" fill="#aaa" filter="url(#b1)" />
<ellipse cx="392.00" cy="568.00" rx="3" ry="3" fill="#b0b0b0" filter="url(#b1)" />
<ellipse cx="412.00" cy="572.00" rx="3" ry="3" fill="#bbb" filter="url(#b1)" />
<ellipse cx="378.00" cy="548.00" rx="2.2" ry="2.2" fill="#999" filter="url(#b1)" />
<path d="M392.7 591 Q393 590 397 590.3 L405 590.3 Q407.5 590.5 407.3 593 Q407 596.3 403 596.3 L396 596.3 Q392.5 596 392.7 593Z" fill="#000" filter="url(#b05)" />
<ellipse cx="400.00" cy="606.00" rx="4.5" ry="9" fill="#bbbbbb" filter="url(#b2)" />
<ellipse cx="399.70" cy="617.10" rx="2.7" ry="2.9" fill="#181818" filter="url(#b05)" />
<ellipse cx="405.20" cy="619.70" rx="2.2" ry="2.4" fill="#282828" filter="url(#b05)" />
<ellipse cx="400.00" cy="627.00" rx="5" ry="3" fill="#f6f6f6" filter="url(#b2)" />
</g>
<text x="381.26" y="642.60" font-size="10.1" textLength="33.35" lengthAdjust="spacingAndGlyphs" font-weight="normal" font-style="normal" fill="#231f20" stroke="#231f20" stroke-width="0.22" >Day 90</text>
<rect x="0" y="0" width="520" height="1.9" fill="#000"/><rect x="0" y="0" width="1.8" height="653" fill="#000"/><rect x="518.1" y="0" width="1.9" height="653" fill="#000"/><rect x="0" y="650.7" width="520" height="2.3" fill="#000"/>
</svg></div></body></html>
